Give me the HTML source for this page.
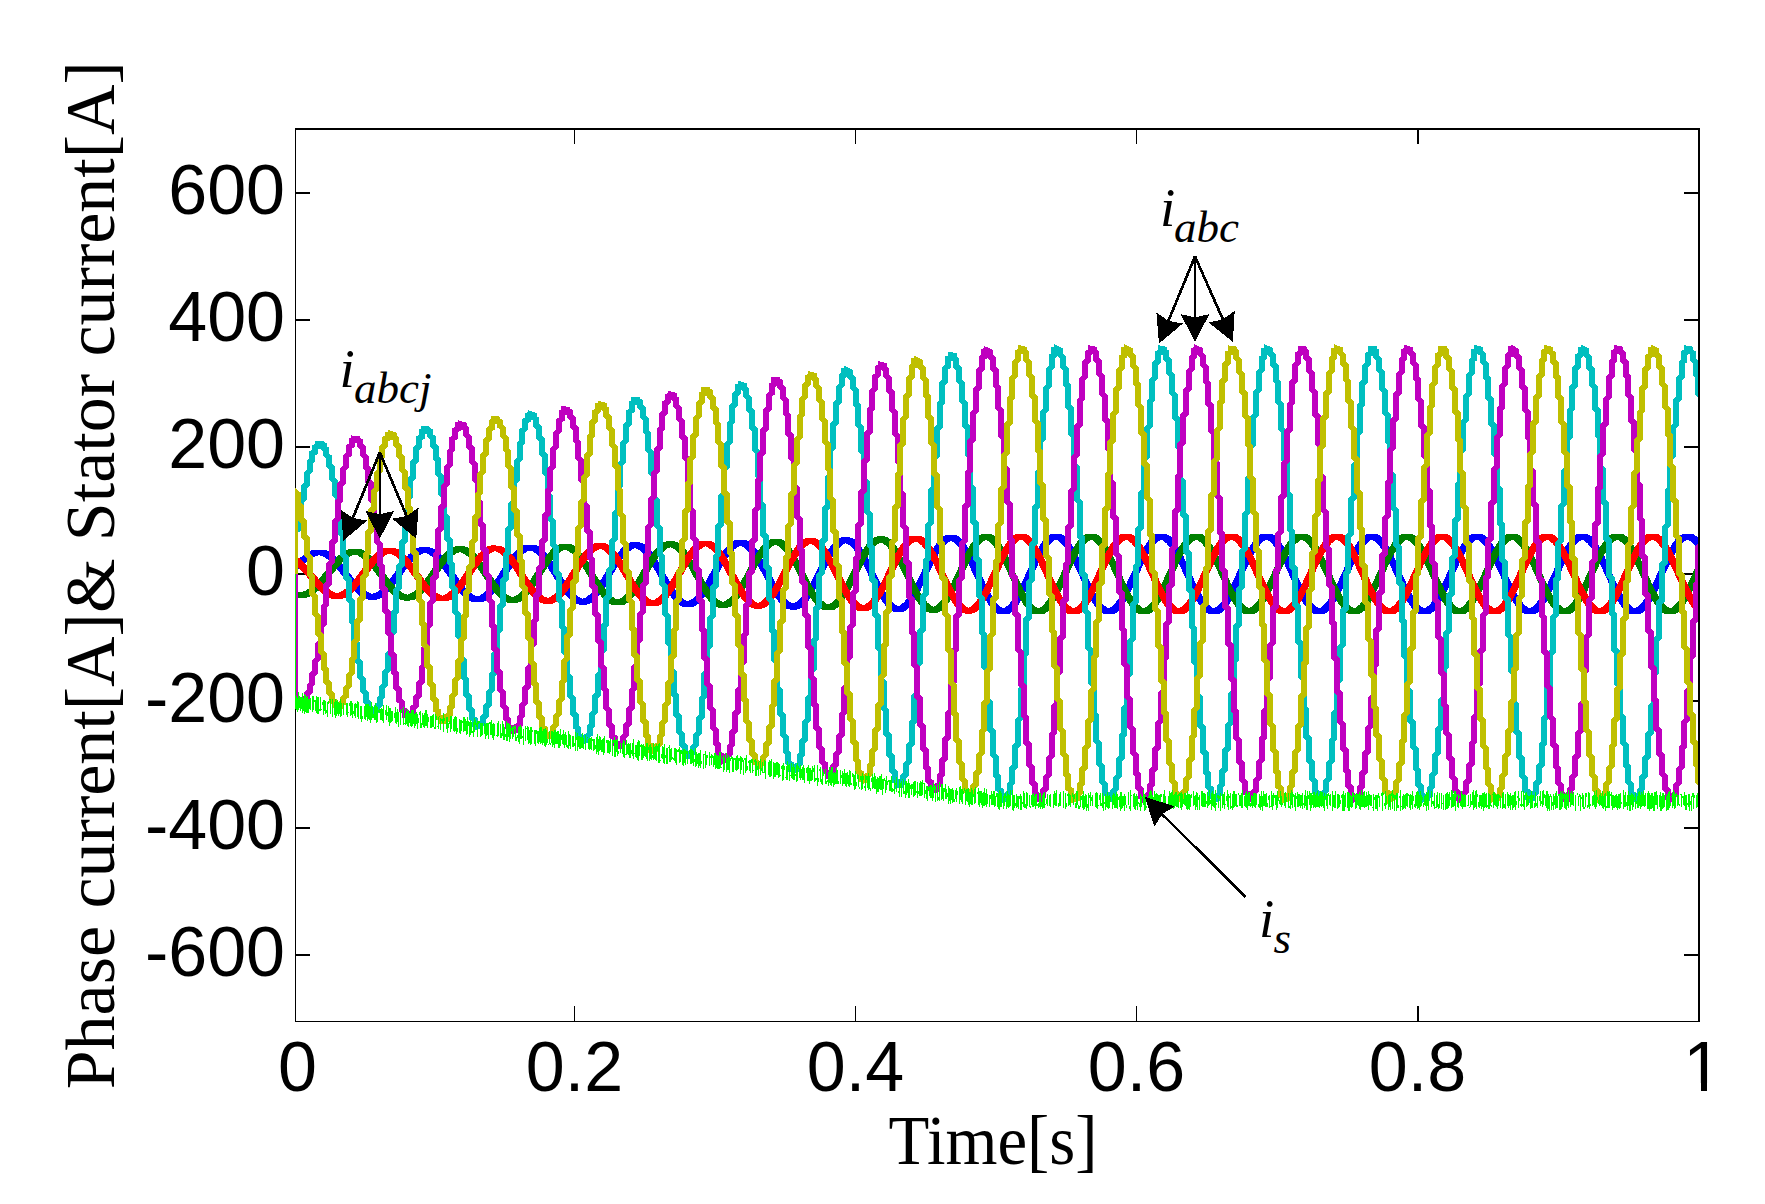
<!DOCTYPE html>
<html lang="en"><head><meta charset="utf-8"><title>Phase current and stator current</title>
<style>html,body{margin:0;padding:0;background:#fff;overflow:hidden}svg{display:block}.tk{font-family:"Liberation Sans",Arial,Helvetica,sans-serif;font-size:70px;fill:#000}.lb{font-family:"Liberation Serif","Times New Roman",Times,serif;font-size:70px;fill:#000}.an{font-family:"Liberation Serif","Times New Roman",Times,serif;font-style:italic;fill:#000}</style></head><body>
<svg width="1765" height="1204" viewBox="0 0 1765 1204">
<rect x="0" y="0" width="1765" height="1204" fill="#fff"/>
<defs><clipPath id="box"><rect x="295" y="130" width="1403" height="891"/></clipPath></defs>
<g shape-rendering="crispEdges" fill="#000">
<rect x="295" y="128" width="1" height="894"/>
<rect x="574" y="1006" width="1" height="15"/>
<rect x="574" y="130" width="1" height="14"/>
<rect x="855" y="1006" width="1" height="15"/>
<rect x="855" y="130" width="1" height="14"/>
<rect x="1136" y="1006" width="1" height="15"/>
<rect x="1136" y="130" width="1" height="14"/>
<rect x="1417" y="1006" width="2" height="15"/>
<rect x="1417" y="130" width="2" height="14"/>
<rect x="296" y="192" width="14" height="2"/>
<rect x="1684" y="192" width="14" height="2"/>
<rect x="296" y="319" width="14" height="2"/>
<rect x="1684" y="319" width="14" height="2"/>
<rect x="296" y="446" width="14" height="2"/>
<rect x="1684" y="446" width="14" height="2"/>
<rect x="296" y="573" width="14" height="2"/>
<rect x="1684" y="573" width="14" height="2"/>
<rect x="296" y="700" width="14" height="2"/>
<rect x="1684" y="700" width="14" height="2"/>
<rect x="296" y="827" width="14" height="2"/>
<rect x="1684" y="827" width="14" height="2"/>
<rect x="296" y="954" width="14" height="2"/>
<rect x="1684" y="954" width="14" height="2"/>
</g>
<g clip-path="url(#box)" shape-rendering="crispEdges" stroke-linejoin="round">
<polygon points="292.8,561.7 295.5,561.7 300.8,557.1 304.8,554.0 308.2,551.8 311.5,550.4 315.2,549.6 322.2,549.5 325.0,549.9 327.8,550.8 330.2,552.0 333.0,553.9 335.8,556.3 338.5,559.1 343.8,565.3 355.8,580.9 358.8,584.4 361.5,587.3 364.2,589.7 367.0,591.7 369.8,593.1 372.2,593.9 375.0,593.0 378.0,591.3 381.0,588.9 384.2,585.7 390.0,578.8 400.2,564.6 404.2,559.4 408.2,554.8 412.0,551.3 415.8,548.8 417.8,547.9 419.5,547.3 422.0,547.1 428.0,547.1 429.8,547.3 432.2,548.0 435.0,549.4 437.8,551.4 440.5,554.0 443.5,557.3 447.0,561.8 459.8,580.2 465.5,587.6 468.8,591.0 471.8,593.5 474.8,595.3 477.5,596.3 480.2,595.3 483.2,593.4 486.2,590.8 489.5,587.3 495.2,579.6 505.5,563.9 509.2,558.5 513.2,553.4 517.0,549.5 520.8,546.6 522.8,545.6 524.5,545.0 527.0,544.6 534.2,544.7 537.0,545.4 539.8,546.9 542.5,549.0 545.5,552.0 548.5,555.6 552.0,560.5 565.0,581.1 570.8,589.2 574.0,592.9 577.0,595.7 580.0,597.7 582.8,598.7 585.5,597.6 588.5,595.5 591.5,592.7 594.8,588.8 600.5,580.4 610.5,563.6 614.5,557.3 618.5,551.7 622.0,547.7 625.8,544.5 627.8,543.3 629.5,542.6 632.0,542.2 639.0,542.2 641.8,542.9 644.8,544.5 647.8,546.9 650.8,550.2 653.8,554.2 657.2,559.5 670.2,581.9 676.0,590.8 679.2,594.9 682.2,597.9 685.2,600.0 686.8,600.8 688.0,601.1 690.8,599.9 693.8,597.6 696.8,594.5 700.0,590.3 702.8,586.2 705.8,581.2 715.8,563.0 719.8,556.1 723.8,550.0 727.2,545.7 729.2,543.7 731.0,542.2 732.8,541.1 734.5,540.3 737.2,539.7 744.0,539.7 746.8,540.4 749.8,542.0 752.8,544.6 755.8,548.1 758.8,552.3 762.2,558.1 775.5,582.8 778.5,588.1 781.2,592.4 784.5,596.8 787.5,600.0 790.5,602.4 792.2,603.3 793.2,603.6 796.0,602.2 799.0,599.8 802.0,596.4 805.2,591.9 808.0,587.4 811.0,582.0 821.0,562.3 825.0,554.9 829.0,548.4 832.5,543.7 834.5,541.5 836.2,539.9 838.0,538.7 839.8,537.9 842.5,537.2 849.0,537.2 851.8,537.9 854.8,539.6 857.8,542.3 861.0,546.3 864.0,550.9 867.5,557.0 880.8,583.7 883.8,589.3 886.5,594.0 889.5,598.4 892.5,602.0 895.5,604.6 898.2,606.0 899.5,605.6 901.0,604.7 904.0,602.2 907.0,598.6 910.2,593.8 913.0,589.0 916.0,583.3 926.2,561.7 930.2,553.7 934.2,546.7 937.8,541.6 939.8,539.3 941.5,537.7 943.2,536.4 945.0,535.4 947.8,534.8 954.2,534.8 957.0,535.5 958.5,536.2 960.0,537.3 963.0,540.2 966.2,544.5 969.2,549.4 972.8,556.0 986.0,584.6 989.0,590.6 991.8,595.6 995.0,600.7 998.0,604.4 1000.8,606.9 1002.2,607.8 1003.5,608.3 1006.2,606.8 1009.2,604.0 1012.2,600.2 1015.2,595.5 1018.0,590.5 1021.0,584.4 1031.2,561.8 1035.0,554.0 1039.0,546.6 1042.5,541.2 1044.5,538.7 1046.2,537.0 1048.2,535.4 1050.0,534.4 1051.5,533.9 1052.8,533.7 1059.2,533.7 1060.5,533.9 1062.0,534.4 1063.5,535.1 1065.0,536.2 1068.0,539.2 1071.2,543.6 1074.2,548.6 1077.8,555.3 1091.0,584.2 1094.0,590.3 1096.8,595.3 1100.0,600.4 1103.0,604.2 1106.0,606.9 1107.5,607.8 1108.8,608.3 1111.5,606.8 1114.5,604.0 1117.5,600.2 1120.5,595.5 1123.2,590.5 1126.2,584.4 1136.5,561.8 1140.2,554.0 1144.2,546.6 1147.8,541.2 1149.8,538.7 1151.5,537.0 1153.5,535.4 1155.2,534.4 1156.8,533.9 1158.0,533.7 1164.5,533.7 1165.8,533.9 1167.2,534.4 1168.8,535.1 1170.2,536.2 1173.2,539.2 1176.5,543.6 1179.5,548.6 1183.0,555.3 1196.2,584.2 1199.2,590.3 1202.0,595.3 1205.2,600.4 1208.2,604.2 1211.2,606.9 1212.8,607.8 1214.0,608.3 1216.8,606.8 1219.8,604.0 1222.8,600.2 1225.8,595.5 1228.5,590.5 1231.5,584.4 1241.8,561.8 1245.5,554.0 1249.5,546.6 1253.0,541.2 1255.0,538.7 1256.8,537.0 1258.8,535.4 1260.5,534.4 1262.0,533.9 1263.2,533.7 1269.8,533.7 1271.0,533.9 1272.5,534.4 1274.0,535.1 1275.5,536.2 1278.5,539.2 1281.8,543.6 1284.8,548.6 1288.2,555.3 1301.5,584.2 1304.5,590.3 1307.2,595.3 1310.5,600.4 1313.5,604.2 1316.5,606.9 1318.0,607.8 1319.2,608.3 1322.0,606.8 1325.0,604.0 1328.0,600.2 1331.0,595.5 1333.8,590.5 1336.8,584.4 1347.0,561.8 1350.8,554.0 1354.8,546.6 1358.2,541.2 1360.2,538.7 1362.0,537.0 1363.8,535.5 1365.5,534.5 1368.2,533.7 1374.8,533.7 1376.0,533.8 1377.5,534.3 1379.0,535.0 1380.5,536.0 1383.5,538.9 1386.8,543.2 1390.0,548.6 1393.5,555.3 1406.8,584.2 1409.8,590.3 1412.5,595.3 1415.8,600.4 1418.8,604.2 1421.8,606.9 1423.2,607.8 1424.5,608.3 1427.2,606.8 1430.2,604.0 1433.2,600.2 1436.2,595.5 1439.0,590.5 1442.0,584.4 1452.2,561.8 1456.0,554.0 1460.0,546.6 1463.5,541.2 1465.5,538.7 1467.2,537.0 1469.0,535.5 1470.8,534.5 1473.5,533.7 1480.0,533.7 1481.2,533.8 1482.8,534.3 1484.2,535.0 1485.8,536.0 1488.8,538.9 1492.0,543.2 1495.2,548.6 1498.8,555.3 1512.0,584.2 1515.0,590.3 1517.8,595.3 1521.0,600.4 1524.0,604.2 1527.0,606.9 1528.5,607.8 1529.8,608.3 1532.5,606.8 1535.5,604.0 1538.5,600.2 1541.5,595.5 1544.2,590.5 1547.2,584.4 1557.5,561.8 1561.2,554.0 1565.2,546.6 1568.8,541.2 1570.8,538.7 1572.5,537.0 1574.2,535.5 1576.0,534.5 1578.8,533.7 1585.2,533.7 1586.5,533.8 1588.0,534.3 1589.5,535.0 1591.0,536.0 1594.0,538.9 1597.2,543.2 1600.5,548.6 1604.0,555.3 1617.2,584.2 1620.2,590.3 1623.0,595.3 1626.2,600.4 1629.2,604.2 1632.2,606.9 1633.8,607.8 1635.0,608.3 1637.8,606.8 1640.5,604.3 1643.2,600.9 1646.2,596.3 1649.0,591.4 1652.0,585.4 1663.2,560.7 1668.0,551.0 1670.5,546.6 1672.8,543.0 1675.0,539.9 1677.2,537.4 1680.2,535.1 1683.0,533.9 1684.8,533.7 1691.8,533.8 1694.2,534.7 1696.8,536.4 1699.2,538.9 1702.0,542.5 1702.0,552.3 1699.2,552.3 1696.5,548.0 1693.8,544.4 1691.0,541.7 1688.5,540.1 1687.5,539.7 1686.5,540.1 1684.8,541.2 1682.8,542.9 1680.5,545.4 1678.2,548.5 1676.0,552.1 1673.5,556.5 1668.8,566.2 1657.2,591.5 1653.8,598.3 1650.8,603.4 1647.2,608.3 1644.0,611.7 1642.2,612.9 1640.8,613.7 1639.2,614.2 1637.8,614.3 1631.5,614.3 1630.2,614.1 1628.8,613.5 1627.0,612.5 1625.2,611.2 1623.5,609.4 1621.5,606.9 1618.0,601.7 1614.0,594.3 1610.0,585.9 1599.8,563.3 1596.8,557.3 1594.0,552.3 1591.0,547.6 1588.0,543.9 1585.0,541.2 1583.5,540.2 1582.2,539.7 1579.5,541.2 1576.5,544.0 1573.5,547.8 1570.2,552.9 1567.5,558.0 1564.5,564.1 1551.2,593.0 1547.8,599.7 1544.8,604.6 1541.5,608.9 1538.5,611.9 1537.0,612.9 1535.5,613.7 1534.0,614.2 1532.8,614.3 1526.2,614.3 1525.0,614.1 1523.5,613.5 1521.8,612.5 1520.0,611.2 1518.2,609.4 1516.2,606.9 1512.8,601.7 1508.8,594.3 1504.8,585.9 1494.5,563.3 1491.5,557.3 1488.8,552.3 1485.8,547.6 1482.8,543.9 1479.8,541.2 1478.2,540.2 1477.0,539.7 1474.2,541.2 1471.2,544.0 1468.2,547.8 1465.0,552.9 1462.2,558.0 1459.2,564.1 1446.0,593.0 1442.5,599.7 1439.5,604.6 1436.2,608.9 1433.2,611.9 1431.8,612.9 1430.2,613.7 1428.8,614.2 1427.5,614.3 1421.0,614.3 1419.8,614.1 1418.2,613.5 1416.5,612.5 1414.8,611.2 1413.0,609.4 1411.0,606.9 1407.5,601.7 1403.5,594.3 1399.5,585.9 1389.2,563.3 1386.2,557.3 1383.5,552.3 1380.5,547.6 1377.5,543.9 1374.5,541.2 1373.0,540.2 1371.8,539.7 1369.0,541.2 1366.0,544.0 1363.0,547.8 1359.8,552.9 1357.0,558.0 1354.0,564.1 1340.8,593.0 1337.2,599.7 1334.2,604.6 1331.0,608.9 1328.0,611.9 1326.5,612.9 1325.0,613.7 1323.5,614.2 1322.2,614.3 1315.8,614.3 1314.5,614.1 1313.0,613.5 1311.2,612.5 1309.5,611.2 1307.8,609.4 1305.8,606.9 1302.2,601.7 1298.2,594.3 1294.2,585.9 1284.0,563.3 1281.0,557.3 1278.2,552.3 1275.2,547.6 1272.2,543.9 1269.2,541.2 1267.8,540.2 1266.5,539.7 1263.8,541.2 1260.8,544.0 1257.8,547.8 1254.5,552.9 1251.8,558.0 1248.8,564.1 1235.5,593.0 1232.0,599.7 1229.0,604.6 1225.8,608.9 1222.8,611.9 1221.2,612.9 1219.8,613.7 1218.2,614.2 1217.0,614.3 1210.5,614.3 1209.2,614.1 1207.8,613.5 1206.0,612.5 1204.2,611.2 1202.5,609.4 1200.5,606.9 1197.0,601.7 1193.0,594.3 1189.0,585.9 1178.8,563.3 1175.8,557.3 1173.0,552.3 1170.0,547.6 1167.0,543.9 1164.0,541.2 1162.5,540.2 1161.2,539.7 1158.5,541.2 1155.5,544.0 1152.5,547.8 1149.2,552.9 1146.5,558.0 1143.5,564.1 1130.2,593.0 1126.8,599.7 1123.8,604.6 1120.5,608.9 1117.5,611.9 1116.0,612.9 1114.5,613.7 1113.0,614.2 1111.8,614.3 1105.2,614.3 1104.0,614.1 1102.5,613.5 1100.8,612.5 1099.0,611.2 1097.2,609.4 1095.2,606.9 1091.8,601.7 1087.8,594.3 1083.8,585.9 1073.5,563.3 1070.5,557.3 1067.8,552.3 1064.8,547.6 1061.8,543.9 1058.8,541.2 1057.2,540.2 1056.0,539.7 1053.2,541.2 1050.2,544.0 1047.2,547.8 1044.0,552.9 1041.2,558.0 1038.2,564.1 1025.0,593.0 1021.5,599.7 1018.5,604.6 1015.2,608.9 1012.2,611.9 1010.8,612.9 1009.2,613.7 1007.8,614.2 1006.5,614.3 1000.0,614.3 997.5,613.6 995.8,612.7 994.0,611.4 992.2,609.6 990.2,607.2 986.8,601.9 982.8,594.7 979.0,586.9 968.8,564.6 965.8,558.6 963.0,553.6 959.8,548.6 956.8,544.9 953.8,542.2 951.0,540.8 948.2,542.2 945.2,544.8 942.2,548.5 939.0,553.4 936.2,558.3 933.2,564.1 920.2,591.2 916.8,597.6 913.5,602.7 910.2,606.9 907.2,609.7 904.2,611.4 901.5,612.0 895.0,612.0 892.2,611.3 890.5,610.4 888.8,609.1 887.0,607.5 885.0,605.2 881.5,600.3 877.5,593.5 873.8,586.2 863.5,565.4 860.5,559.8 857.8,555.2 854.5,550.5 851.5,547.0 848.5,544.6 845.8,543.2 843.0,544.5 840.0,547.0 837.0,550.4 833.8,555.0 831.0,559.5 828.0,565.0 815.0,590.2 811.5,596.2 808.5,600.6 805.2,604.5 802.2,607.2 799.2,608.9 796.5,609.5 789.8,609.5 787.0,608.9 785.2,608.0 783.5,606.8 781.8,605.3 779.8,603.2 776.2,598.6 772.2,592.3 768.5,585.6 758.2,566.2 755.2,561.0 752.5,556.7 749.2,552.4 746.2,549.2 743.2,546.9 740.5,545.6 737.8,546.9 734.8,549.2 731.8,552.3 728.8,556.2 726.0,560.4 723.0,565.4 709.8,589.2 706.2,594.7 703.2,598.8 700.0,602.5 697.0,604.9 694.0,606.5 691.2,607.1 684.8,607.1 682.0,606.6 680.2,605.8 678.5,604.7 676.8,603.4 674.8,601.5 671.2,597.3 667.2,591.5 663.2,584.9 653.0,567.0 650.0,562.2 647.2,558.3 644.0,554.3 641.0,551.3 638.0,549.2 635.2,548.0 632.5,549.2 629.5,551.3 626.5,554.2 623.5,557.8 617.8,566.3 604.5,588.2 601.0,593.3 598.0,597.1 595.0,600.2 592.0,602.5 589.0,604.0 586.2,604.6 579.5,604.6 576.8,604.1 575.0,603.4 573.2,602.5 569.5,599.4 566.0,595.6 562.0,590.3 558.0,584.2 547.8,567.8 542.0,559.8 538.8,556.1 535.8,553.4 532.8,551.5 530.0,550.5 527.2,551.5 524.2,553.5 521.2,556.1 518.2,559.5 512.5,567.2 499.5,586.9 496.0,591.5 493.0,595.0 490.0,597.9 487.0,600.1 484.2,601.4 481.5,602.1 474.2,602.2 471.8,601.8 470.0,601.2 468.0,600.2 464.2,597.4 460.8,593.9 456.8,589.1 452.8,583.6 442.8,569.0 437.0,561.6 433.8,558.3 430.8,555.8 427.8,553.9 425.0,552.9 424.0,553.1 422.2,553.8 419.2,555.5 416.2,557.8 413.0,561.1 407.2,568.1 394.2,585.9 391.0,589.9 388.0,593.0 385.2,595.5 382.5,597.4 379.8,598.8 377.2,599.5 375.2,599.7 369.2,599.7 366.8,599.4 365.0,598.9 363.0,598.0 359.2,595.6 355.5,592.3 351.5,587.9 337.8,570.2 332.0,563.5 329.0,560.7 326.0,558.3 323.0,556.6 320.2,555.6 319.2,555.3 318.2,555.5 316.2,556.1 314.0,557.2 310.0,559.6 305.5,563.2 298.5,569.4 298.2,576.8 295.5,576.8 292.8,576.8" fill="#0000ff"/>
<polygon points="292.8,571.2 295.5,571.2 298.2,571.2 298.5,592.1 300.0,592.3 303.2,591.5 306.0,590.3 308.8,588.6 311.8,586.3 314.8,583.5 320.2,577.3 334.0,560.2 338.0,555.9 341.8,552.7 345.5,550.3 347.5,549.5 349.2,549.0 352.0,548.7 357.8,548.7 360.0,549.0 362.5,549.7 365.2,551.1 368.0,553.1 370.8,555.5 373.8,558.7 376.8,562.3 389.8,579.8 395.5,586.7 398.5,589.6 401.5,592.0 404.5,593.7 407.2,594.7 410.0,593.8 413.0,592.0 416.0,589.6 419.2,586.3 425.0,579.2 435.2,564.5 439.2,559.1 443.2,554.3 446.8,550.9 450.5,548.2 452.5,547.2 454.2,546.6 456.8,546.3 464.0,546.3 466.8,547.0 469.5,548.3 472.5,550.5 475.5,553.3 478.5,556.7 482.0,561.3 495.0,580.7 500.8,588.3 503.8,591.6 506.8,594.2 509.8,596.1 512.5,597.1 515.2,596.1 518.2,594.2 521.2,591.5 524.5,587.9 530.2,580.0 540.5,563.8 544.5,557.9 548.5,552.6 552.0,548.9 555.8,545.9 557.5,544.9 559.2,544.3 562.0,543.8 568.8,543.8 571.5,544.4 574.5,545.9 577.5,548.2 580.5,551.3 583.5,555.0 587.0,560.0 600.2,581.6 606.0,589.9 609.0,593.5 612.0,596.4 615.0,598.4 617.8,599.6 620.5,598.4 623.5,596.3 626.5,593.4 629.8,589.4 632.5,585.5 635.5,580.8 645.8,563.1 649.5,557.0 653.5,551.2 657.0,547.1 660.8,543.8 662.5,542.7 664.2,541.9 667.0,541.3 673.8,541.3 676.5,541.9 679.5,543.5 682.5,545.9 685.8,549.5 688.8,553.6 692.2,559.0 705.2,582.1 711.0,591.2 714.2,595.4 717.2,598.5 720.2,600.8 723.0,602.0 725.8,600.7 728.8,598.4 731.8,595.3 735.0,591.0 737.8,586.7 740.8,581.6 751.0,562.5 754.8,555.8 758.8,549.6 762.2,545.1 764.2,543.0 766.0,541.5 767.8,540.3 769.5,539.5 772.2,538.9 778.8,538.9 781.5,539.4 784.5,541.0 787.5,543.6 790.8,547.4 794.0,552.1 797.5,558.0 810.5,583.0 813.5,588.3 816.2,592.8 819.5,597.3 822.5,600.7 825.5,603.1 828.2,604.4 831.0,603.0 834.0,600.6 837.0,597.1 840.2,592.5 843.0,587.9 846.0,582.4 856.0,562.3 860.0,554.6 864.0,547.9 867.5,543.1 869.5,540.9 871.2,539.2 873.0,538.0 874.8,537.1 877.5,536.4 884.0,536.4 886.8,537.0 889.8,538.8 892.8,541.5 896.0,545.6 899.2,550.7 902.8,557.0 915.8,583.8 918.8,589.6 921.5,594.4 924.8,599.3 927.8,602.9 930.8,605.4 932.2,606.3 933.5,606.8 936.2,605.4 939.2,602.7 942.2,599.0 945.5,594.0 948.2,589.1 951.2,583.2 961.2,561.6 965.2,553.5 969.2,546.3 972.8,541.1 974.8,538.7 976.5,537.0 978.2,535.6 980.0,534.7 982.8,534.0 989.2,534.0 990.5,534.1 992.0,534.6 993.5,535.4 995.0,536.5 998.0,539.4 1001.0,543.5 1004.0,548.4 1007.5,555.1 1020.8,584.0 1023.8,590.1 1026.5,595.2 1029.8,600.3 1032.8,604.1 1035.8,606.8 1038.5,608.3 1041.2,606.8 1044.2,604.1 1047.2,600.3 1050.2,595.6 1053.0,590.6 1056.0,584.6 1066.2,562.0 1070.2,553.6 1074.2,546.3 1077.8,541.0 1079.8,538.6 1081.5,536.8 1083.2,535.4 1085.0,534.4 1086.5,533.9 1087.8,533.7 1094.2,533.7 1095.5,533.9 1097.0,534.3 1098.5,535.1 1100.0,536.2 1103.0,539.1 1106.2,543.5 1109.2,548.4 1112.8,555.1 1126.0,584.0 1129.0,590.1 1131.8,595.2 1135.0,600.3 1138.0,604.1 1141.0,606.8 1143.8,608.3 1146.5,606.8 1149.5,604.1 1152.5,600.3 1155.5,595.6 1158.2,590.6 1161.2,584.6 1171.5,562.0 1175.5,553.6 1179.5,546.3 1183.0,541.0 1185.0,538.6 1186.8,536.8 1188.5,535.4 1190.2,534.4 1191.8,533.9 1193.0,533.7 1199.5,533.7 1200.8,533.9 1202.2,534.3 1203.8,535.1 1205.2,536.2 1208.2,539.1 1211.5,543.5 1214.5,548.4 1218.0,555.1 1231.2,584.0 1234.2,590.1 1237.0,595.2 1240.2,600.3 1243.2,604.1 1246.2,606.8 1249.0,608.3 1251.8,606.8 1254.8,604.1 1257.8,600.3 1260.8,595.6 1263.5,590.6 1266.5,584.6 1276.8,562.0 1280.8,553.6 1284.8,546.3 1288.2,541.0 1290.2,538.6 1292.0,536.8 1293.8,535.4 1295.5,534.4 1297.0,533.9 1298.2,533.7 1304.8,533.7 1306.0,533.9 1307.5,534.3 1309.0,535.1 1310.5,536.2 1313.5,539.1 1316.8,543.5 1319.8,548.4 1323.2,555.1 1336.5,584.0 1339.5,590.1 1342.2,595.2 1345.5,600.3 1348.5,604.1 1351.5,606.8 1354.2,608.3 1357.0,606.8 1360.0,604.1 1363.0,600.3 1366.0,595.6 1368.8,590.6 1371.8,584.6 1382.0,562.0 1385.8,554.1 1389.8,546.7 1393.2,541.3 1395.2,538.8 1397.0,537.0 1399.0,535.4 1400.8,534.4 1402.2,533.9 1403.5,533.7 1409.8,533.7 1411.2,533.9 1412.8,534.3 1414.2,535.1 1415.8,536.2 1418.8,539.1 1422.0,543.5 1425.0,548.4 1428.5,555.1 1441.8,584.0 1444.8,590.1 1447.5,595.2 1450.8,600.3 1453.8,604.1 1456.8,606.8 1459.5,608.3 1462.2,606.8 1465.2,604.1 1468.2,600.3 1471.2,595.6 1474.0,590.6 1477.0,584.6 1487.2,562.0 1491.0,554.1 1495.0,546.7 1498.5,541.3 1500.5,538.8 1502.2,537.0 1504.2,535.4 1506.0,534.4 1507.5,533.9 1508.8,533.7 1515.0,533.7 1516.5,533.9 1518.0,534.3 1519.5,535.1 1521.0,536.2 1524.0,539.1 1527.2,543.5 1530.2,548.4 1533.8,555.1 1547.0,584.0 1550.0,590.1 1552.8,595.2 1556.0,600.3 1559.0,604.1 1562.0,606.8 1564.8,608.3 1567.5,606.8 1570.5,604.1 1573.5,600.3 1576.5,595.6 1579.2,590.6 1582.2,584.6 1592.5,562.0 1596.2,554.1 1600.2,546.7 1603.8,541.3 1605.8,538.8 1607.5,537.0 1609.5,535.4 1611.2,534.4 1612.8,533.9 1614.0,533.7 1620.2,533.7 1621.8,533.9 1623.2,534.3 1624.8,535.1 1626.2,536.2 1629.2,539.1 1632.5,543.5 1635.5,548.4 1639.0,555.1 1652.2,584.0 1655.2,590.1 1658.0,595.2 1661.2,600.3 1664.2,604.1 1667.2,606.8 1670.0,608.3 1672.2,607.2 1674.8,605.1 1677.2,602.3 1680.0,598.5 1683.2,593.0 1686.8,586.1 1699.2,558.8 1702.0,558.8 1702.0,570.2 1694.5,586.9 1690.0,596.1 1685.8,603.6 1682.0,608.7 1680.2,610.6 1678.5,612.1 1676.8,613.3 1675.0,614.0 1673.0,614.3 1667.2,614.3 1666.0,614.2 1664.5,613.8 1661.8,612.3 1658.8,609.6 1655.8,605.8 1652.5,600.7 1649.8,595.6 1646.8,589.5 1633.8,561.1 1630.5,554.8 1627.5,549.7 1624.8,545.8 1622.2,543.0 1619.5,540.8 1618.0,539.9 1617.2,539.7 1614.5,541.3 1611.5,544.1 1608.5,547.9 1605.5,552.6 1602.8,557.7 1599.8,563.7 1589.8,585.8 1585.8,594.2 1581.8,601.5 1578.0,607.2 1576.0,609.6 1574.2,611.3 1572.2,612.8 1570.5,613.7 1568.0,614.3 1560.8,614.2 1558.0,613.3 1555.2,611.3 1552.5,608.4 1549.5,604.3 1546.5,599.3 1543.0,592.6 1529.8,563.7 1526.8,557.6 1524.0,552.6 1520.8,547.5 1517.8,543.8 1514.8,541.1 1513.0,540.1 1512.0,539.7 1509.2,541.3 1506.2,544.1 1503.2,547.9 1500.2,552.6 1497.5,557.7 1494.5,563.7 1484.5,585.8 1480.5,594.2 1476.5,601.5 1473.0,606.9 1471.0,609.3 1469.2,611.1 1467.2,612.7 1465.5,613.6 1464.0,614.1 1462.8,614.3 1456.0,614.3 1453.2,613.5 1451.8,612.7 1450.2,611.5 1447.2,608.4 1444.2,604.3 1441.2,599.3 1437.8,592.6 1424.5,563.7 1421.5,557.6 1418.8,552.6 1415.5,547.5 1412.5,543.8 1409.5,541.1 1407.8,540.1 1406.8,539.7 1404.0,541.3 1401.0,544.1 1398.0,547.9 1395.0,552.6 1392.2,557.7 1389.2,563.7 1379.2,585.8 1375.2,594.2 1371.2,601.5 1367.8,606.9 1365.8,609.3 1364.0,611.1 1362.0,612.7 1360.2,613.6 1358.8,614.1 1357.5,614.3 1351.0,614.3 1349.8,614.1 1348.2,613.6 1346.8,612.8 1345.2,611.7 1342.2,608.7 1339.2,604.7 1336.2,599.8 1332.8,593.1 1319.2,563.7 1316.2,557.6 1313.5,552.6 1310.2,547.5 1307.2,543.8 1304.2,541.1 1302.5,540.1 1301.5,539.7 1298.8,541.3 1295.8,544.1 1292.8,547.9 1289.8,552.6 1287.0,557.7 1284.0,563.7 1274.0,585.8 1270.0,594.2 1266.0,601.5 1262.5,606.9 1260.5,609.3 1258.8,611.1 1256.8,612.7 1255.0,613.6 1253.5,614.1 1252.2,614.3 1245.8,614.3 1244.5,614.1 1243.0,613.6 1241.5,612.8 1240.0,611.7 1237.0,608.7 1234.0,604.7 1231.0,599.8 1227.5,593.1 1214.0,563.7 1211.0,557.6 1208.2,552.6 1205.0,547.5 1202.0,543.8 1199.0,541.1 1197.2,540.1 1196.2,539.7 1193.5,541.3 1190.5,544.1 1187.5,547.9 1184.5,552.6 1181.8,557.7 1178.8,563.7 1168.8,585.8 1164.8,594.2 1160.8,601.5 1157.2,606.9 1155.2,609.3 1153.5,611.1 1151.8,612.5 1150.0,613.5 1147.2,614.3 1140.8,614.3 1139.5,614.2 1138.0,613.7 1136.5,613.0 1135.0,611.9 1132.0,609.0 1128.8,604.7 1125.8,599.8 1122.2,593.1 1108.8,563.7 1105.8,557.6 1103.0,552.6 1099.8,547.5 1096.8,543.8 1093.8,541.1 1092.0,540.1 1091.0,539.7 1088.2,541.3 1085.2,544.1 1082.2,547.9 1079.2,552.6 1076.5,557.7 1073.5,563.7 1063.5,585.8 1059.5,594.2 1055.5,601.5 1052.0,606.9 1050.0,609.3 1048.2,611.1 1046.5,612.5 1044.8,613.5 1042.0,614.3 1035.5,614.3 1034.2,614.2 1032.8,613.7 1031.2,613.0 1029.8,611.9 1026.8,609.0 1023.5,604.7 1020.5,599.8 1017.0,593.1 1003.5,563.7 1000.5,557.6 997.8,552.6 994.5,547.5 991.8,544.1 988.8,541.4 987.2,540.5 986.0,540.0 983.2,541.5 980.2,544.2 977.2,547.9 974.2,552.6 971.5,557.5 968.5,563.5 955.2,591.7 951.8,598.3 948.8,603.1 945.5,607.4 942.5,610.3 939.5,612.1 936.8,612.8 930.2,612.8 927.5,612.2 925.8,611.3 924.0,610.0 922.2,608.4 920.2,606.1 916.8,601.1 912.8,594.2 908.8,586.3 898.5,565.0 895.5,559.3 892.8,554.5 889.5,549.7 886.5,546.2 883.5,543.7 882.0,542.9 880.8,542.4 878.0,543.8 875.0,546.4 872.0,549.9 869.0,554.2 866.2,558.8 863.2,564.4 850.0,590.7 846.5,596.8 843.5,601.3 840.5,605.0 837.5,607.8 834.5,609.6 831.8,610.3 825.0,610.4 822.2,609.8 820.5,608.9 818.8,607.7 817.0,606.2 815.0,604.1 811.5,599.4 807.5,593.0 803.5,585.6 793.2,565.8 790.2,560.5 787.5,556.1 784.2,551.6 781.2,548.4 778.2,546.0 776.8,545.2 775.5,544.8 772.8,546.1 769.8,548.5 766.8,551.8 763.8,555.8 761.0,560.1 758.0,565.2 745.0,589.3 741.5,595.0 738.5,599.2 735.5,602.7 732.5,605.4 729.5,607.1 726.8,607.8 719.8,607.9 717.0,607.3 715.2,606.5 713.5,605.4 711.8,604.0 709.8,602.0 706.2,597.8 702.2,591.8 698.2,585.0 688.0,566.6 685.0,561.7 682.2,557.6 679.0,553.5 676.0,550.5 673.0,548.4 671.5,547.6 670.2,547.3 667.5,548.5 664.5,550.7 661.5,553.7 658.5,557.4 652.8,566.1 639.8,588.3 636.2,593.5 633.2,597.5 630.2,600.7 627.2,603.1 624.5,604.6 621.8,605.4 614.5,605.4 612.0,605.0 610.2,604.3 608.2,603.2 604.5,600.0 601.0,596.1 597.0,590.6 593.0,584.3 583.0,567.8 577.2,559.5 574.0,555.7 571.0,552.9 568.0,550.8 565.2,549.7 562.5,550.7 559.5,552.6 556.5,555.3 553.2,559.0 547.5,567.0 534.5,587.3 531.2,591.8 528.2,595.4 525.2,598.4 522.5,600.6 519.8,602.0 517.2,602.8 515.5,603.0 509.5,603.0 507.0,602.6 505.2,602.0 503.2,601.0 499.5,598.2 495.8,594.4 491.8,589.4 487.8,583.7 477.8,568.6 472.0,561.0 468.8,557.6 465.8,555.0 462.8,553.1 460.0,552.1 457.8,552.8 455.0,554.3 452.5,556.2 449.8,558.7 447.0,561.8 443.8,565.9 431.0,584.0 425.2,591.3 422.0,594.7 419.0,597.2 416.0,599.0 413.2,600.1 410.2,600.5 404.2,600.5 402.2,600.3 400.5,599.8 398.5,599.0 394.8,596.6 391.0,593.2 386.8,588.5 382.8,583.3 372.5,569.4 366.8,562.6 363.5,559.4 360.5,557.1 357.5,555.5 354.8,554.5 352.2,555.3 349.2,556.8 346.2,559.0 343.2,561.7 337.5,568.0 327.2,581.0 323.2,585.8 319.0,590.2 315.0,593.6 310.8,596.2 306.8,597.6 303.2,598.0 295.5,597.9 292.8,597.9" fill="#008000"/>
<polygon points="292.8,557.5 295.5,557.5 298.2,557.5 301.0,559.6 304.0,562.3 309.5,568.0 321.5,582.0 324.5,585.1 327.2,587.7 329.8,589.6 332.2,591.2 334.8,592.4 337.0,593.1 339.8,592.2 342.8,590.6 345.8,588.4 349.0,585.4 351.8,582.4 355.0,578.4 365.2,564.7 369.2,559.7 373.5,555.0 377.2,551.7 381.0,549.4 383.0,548.5 384.8,548.1 386.8,547.9 392.8,547.9 395.5,548.3 398.2,549.3 401.2,551.0 404.2,553.4 407.5,556.7 413.2,563.9 426.2,582.0 429.5,586.0 432.2,589.0 435.0,591.5 437.5,593.4 440.2,594.8 442.5,595.5 445.2,594.5 448.2,592.6 451.2,590.1 454.5,586.7 460.2,579.2 470.2,564.4 474.2,558.8 478.2,553.8 482.0,550.1 485.8,547.3 487.8,546.3 489.5,545.8 492.0,545.4 499.5,545.6 502.2,546.4 505.0,547.8 507.8,549.9 510.8,552.9 513.8,556.5 517.0,560.9 530.0,580.9 535.8,588.8 538.8,592.1 541.8,594.8 544.8,596.8 547.5,597.9 550.2,596.9 553.2,594.9 556.2,592.2 559.5,588.5 565.2,580.4 575.5,563.7 579.5,557.6 583.5,552.1 587.2,548.0 591.0,545.0 592.8,544.1 594.5,543.4 597.0,543.0 604.2,543.0 607.0,543.8 609.8,545.3 612.8,547.7 615.8,550.9 618.8,554.7 622.2,559.9 635.2,581.8 641.0,590.4 644.0,594.0 647.0,597.0 650.0,599.2 652.8,600.4 655.5,599.2 658.5,597.1 661.5,594.1 664.8,590.0 667.5,586.0 670.5,581.2 680.8,563.1 684.8,556.4 688.8,550.5 692.2,546.2 694.2,544.3 696.0,542.9 697.8,541.8 699.5,541.1 702.2,540.5 709.0,540.5 711.8,541.2 714.8,542.8 717.8,545.4 720.8,548.8 723.8,553.0 727.2,558.5 740.5,582.7 743.5,587.8 746.2,592.0 749.2,596.0 752.2,599.2 755.2,601.5 758.0,602.8 760.8,601.5 763.8,599.2 766.8,596.0 770.0,591.6 772.8,587.2 775.8,582.0 786.0,562.4 790.0,555.2 794.0,548.8 797.5,544.2 799.5,542.1 801.2,540.6 803.0,539.5 804.8,538.6 807.5,538.1 814.0,538.1 816.8,538.7 819.8,540.4 822.8,543.1 826.0,547.0 829.0,551.5 832.5,557.5 845.8,583.6 848.8,589.1 851.5,593.6 854.5,597.9 857.5,601.3 860.5,603.8 863.2,605.2 866.0,603.9 869.0,601.4 872.0,597.9 875.2,593.1 878.0,588.5 881.0,582.8 891.2,561.7 895.2,553.9 899.2,547.1 902.8,542.2 904.8,540.0 906.5,538.3 908.2,537.1 910.0,536.2 912.8,535.6 919.2,535.6 922.0,536.3 925.0,538.1 928.0,541.0 931.2,545.3 934.2,550.1 937.8,556.5 950.8,584.0 953.8,589.9 956.5,594.8 959.8,599.8 962.8,603.5 965.8,606.2 968.5,607.6 971.2,606.2 974.2,603.5 977.2,599.8 980.5,594.7 983.2,589.7 986.2,583.6 996.2,561.6 1000.0,553.8 1004.0,546.4 1007.5,541.1 1009.5,538.7 1011.2,536.9 1013.2,535.3 1015.0,534.4 1016.5,533.9 1017.8,533.7 1024.2,533.7 1025.5,533.9 1027.0,534.4 1028.5,535.2 1030.0,536.3 1033.0,539.3 1036.2,543.7 1039.2,548.7 1042.8,555.4 1055.8,583.8 1058.8,589.9 1061.5,595.0 1064.8,600.2 1067.8,604.0 1070.8,606.7 1073.5,608.3 1074.8,607.8 1076.2,606.9 1079.2,604.2 1082.2,600.4 1085.5,595.3 1088.2,590.3 1091.2,584.2 1101.2,562.2 1105.2,553.8 1109.2,546.4 1112.8,541.1 1114.8,538.7 1116.5,536.9 1118.5,535.3 1120.2,534.4 1121.8,533.9 1123.0,533.7 1129.5,533.7 1130.8,533.9 1132.2,534.4 1133.8,535.2 1135.2,536.3 1138.2,539.3 1141.5,543.7 1144.5,548.7 1148.0,555.4 1161.0,583.8 1164.0,589.9 1166.8,595.0 1170.0,600.2 1173.0,604.0 1176.0,606.7 1178.8,608.3 1180.0,607.8 1181.5,606.9 1184.5,604.2 1187.5,600.4 1190.8,595.3 1193.5,590.3 1196.5,584.2 1206.5,562.2 1210.5,553.8 1214.5,546.4 1218.0,541.1 1220.0,538.7 1221.8,536.9 1223.5,535.5 1225.2,534.5 1228.0,533.7 1234.5,533.7 1235.8,533.8 1237.2,534.3 1238.8,535.0 1240.2,536.1 1243.2,539.0 1246.5,543.3 1249.5,548.3 1253.0,554.9 1266.2,583.8 1269.2,589.9 1272.0,595.0 1275.2,600.2 1278.2,604.0 1281.2,606.7 1284.0,608.3 1285.2,607.8 1286.8,606.9 1289.8,604.2 1292.8,600.4 1296.0,595.3 1298.8,590.3 1301.8,584.2 1311.8,562.2 1315.8,553.8 1319.8,546.4 1323.2,541.1 1325.2,538.7 1327.0,536.9 1328.8,535.5 1330.5,534.5 1333.2,533.7 1339.8,533.7 1341.0,533.8 1342.5,534.3 1344.0,535.0 1345.5,536.1 1348.5,539.0 1351.8,543.3 1354.8,548.3 1358.2,554.9 1371.5,583.8 1374.5,589.9 1377.2,595.0 1380.5,600.2 1383.5,604.0 1386.5,606.7 1389.2,608.3 1390.5,607.8 1392.0,606.9 1395.0,604.2 1398.0,600.4 1401.2,595.3 1404.0,590.3 1407.0,584.2 1417.0,562.2 1421.0,553.8 1425.0,546.4 1428.5,541.1 1430.5,538.7 1432.2,536.9 1434.0,535.5 1435.8,534.5 1438.5,533.7 1445.0,533.7 1446.2,533.8 1447.8,534.3 1449.2,535.0 1450.8,536.1 1453.8,539.0 1457.0,543.3 1460.0,548.3 1463.5,554.9 1476.8,583.8 1479.8,589.9 1482.5,595.0 1485.8,600.2 1488.8,604.0 1491.8,606.7 1494.5,608.3 1495.8,607.8 1497.2,606.9 1500.2,604.2 1503.2,600.4 1506.5,595.3 1509.2,590.3 1512.2,584.2 1522.2,562.2 1526.2,553.8 1530.2,546.4 1533.8,541.1 1535.8,538.7 1537.5,536.9 1539.2,535.5 1541.0,534.5 1543.8,533.7 1550.2,533.7 1551.5,533.8 1553.0,534.3 1554.5,535.0 1556.0,536.1 1559.0,539.0 1562.2,543.3 1565.2,548.3 1568.8,554.9 1582.0,583.8 1585.0,589.9 1587.8,595.0 1591.0,600.2 1594.0,604.0 1597.0,606.7 1599.8,608.3 1601.0,607.8 1602.5,606.9 1605.5,604.2 1608.5,600.4 1611.8,595.3 1614.5,590.3 1617.5,584.2 1627.5,562.2 1631.5,553.8 1635.5,546.4 1639.0,541.1 1641.0,538.7 1642.8,536.9 1644.5,535.5 1646.2,534.5 1649.0,533.7 1655.5,533.7 1657.0,533.9 1658.5,534.4 1660.0,535.2 1661.8,536.5 1665.0,539.9 1668.2,544.5 1671.2,549.6 1674.5,555.9 1686.8,582.8 1691.8,592.8 1694.5,597.5 1697.0,601.2 1699.5,604.3 1702.0,606.6 1702.0,613.7 1699.2,613.7 1696.5,612.1 1693.2,608.9 1690.0,604.6 1687.0,599.6 1683.5,593.0 1670.2,564.0 1667.2,557.9 1664.5,552.9 1661.2,547.7 1658.2,543.9 1655.2,541.2 1652.5,539.7 1649.8,541.2 1646.8,543.9 1643.8,547.6 1640.5,552.8 1637.8,557.8 1634.8,563.9 1621.5,592.8 1618.0,599.5 1614.8,604.9 1611.5,609.1 1608.5,612.0 1607.0,613.0 1605.5,613.8 1604.0,614.2 1602.8,614.3 1596.5,614.3 1595.2,614.1 1593.8,613.6 1592.0,612.6 1590.0,611.0 1588.2,609.2 1586.2,606.7 1582.8,601.4 1578.8,594.0 1575.0,586.1 1564.8,563.5 1561.8,557.5 1559.0,552.5 1556.0,547.7 1553.0,543.9 1550.0,541.2 1547.2,539.7 1544.5,541.2 1541.5,543.9 1538.5,547.6 1535.2,552.8 1532.5,557.8 1529.5,563.9 1516.2,592.8 1512.8,599.5 1509.5,604.9 1506.2,609.1 1503.2,612.0 1501.8,613.0 1500.2,613.8 1498.8,614.2 1497.5,614.3 1491.2,614.3 1490.0,614.1 1488.5,613.6 1486.8,612.6 1484.8,611.0 1483.0,609.2 1481.0,606.7 1477.5,601.4 1473.5,594.0 1469.8,586.1 1459.5,563.5 1456.5,557.5 1453.8,552.5 1450.8,547.7 1447.8,543.9 1444.8,541.2 1442.0,539.7 1439.2,541.2 1436.2,543.9 1433.2,547.6 1430.0,552.8 1427.2,557.8 1424.2,563.9 1411.0,592.8 1407.5,599.5 1404.2,604.9 1401.0,609.1 1398.0,612.0 1396.5,613.0 1395.0,613.8 1393.5,614.2 1392.2,614.3 1386.0,614.3 1384.8,614.1 1383.2,613.6 1381.5,612.6 1379.5,611.0 1377.8,609.2 1375.8,606.7 1372.2,601.4 1368.2,594.0 1364.5,586.1 1354.2,563.5 1351.2,557.5 1348.5,552.5 1345.5,547.7 1342.5,543.9 1339.5,541.2 1336.8,539.7 1334.0,541.2 1331.0,543.9 1328.0,547.6 1324.8,552.8 1322.0,557.8 1319.0,563.9 1305.8,592.8 1302.2,599.5 1299.0,604.9 1295.8,609.1 1292.8,612.0 1291.2,613.0 1289.8,613.8 1288.2,614.2 1287.0,614.3 1280.8,614.3 1279.5,614.1 1278.0,613.6 1276.2,612.6 1274.2,611.0 1272.5,609.2 1270.5,606.7 1267.0,601.4 1263.0,594.0 1259.2,586.1 1249.0,563.5 1246.0,557.5 1243.2,552.5 1240.2,547.7 1237.2,543.9 1234.2,541.2 1231.5,539.7 1228.8,541.2 1225.8,543.9 1222.8,547.6 1219.5,552.8 1216.8,557.8 1213.8,563.9 1200.5,592.8 1197.0,599.5 1194.0,604.5 1190.8,608.8 1187.8,611.8 1186.2,612.9 1184.8,613.7 1183.2,614.1 1182.0,614.3 1175.5,614.3 1174.2,614.1 1172.8,613.6 1171.0,612.6 1169.2,611.2 1167.5,609.5 1165.5,607.1 1162.0,601.8 1158.0,594.5 1154.0,586.1 1143.8,563.5 1140.8,557.5 1138.0,552.5 1135.0,547.7 1132.0,543.9 1129.0,541.2 1126.2,539.7 1123.5,541.2 1120.5,543.9 1117.5,547.6 1114.2,552.8 1111.5,557.8 1108.5,563.9 1095.2,592.8 1091.8,599.5 1088.8,604.5 1085.5,608.8 1082.5,611.8 1081.0,612.9 1079.5,613.7 1078.0,614.1 1076.8,614.3 1070.2,614.3 1069.0,614.1 1067.5,613.6 1065.8,612.6 1064.0,611.2 1062.2,609.5 1060.2,607.1 1056.8,601.8 1052.8,594.5 1048.8,586.1 1038.5,563.5 1035.5,557.5 1032.8,552.5 1029.8,547.7 1026.8,543.9 1023.8,541.2 1021.0,539.7 1018.2,541.2 1015.2,543.9 1012.2,547.6 1009.0,552.8 1006.2,557.8 1003.2,563.9 990.2,592.2 986.8,598.9 983.8,603.8 980.5,608.2 977.5,611.1 976.0,612.2 974.5,613.0 971.8,613.6 965.2,613.6 962.5,612.9 960.8,612.0 959.0,610.7 957.2,609.0 955.2,606.6 951.8,601.5 947.8,594.4 943.8,586.3 933.8,565.0 930.8,559.2 928.0,554.3 924.8,549.3 921.8,545.7 918.8,543.1 916.0,541.6 914.8,542.0 913.2,542.9 910.2,545.5 907.2,549.0 904.0,553.8 901.2,558.5 898.2,564.2 885.0,591.2 881.5,597.4 878.5,602.0 875.2,606.1 872.2,608.8 869.2,610.6 866.5,611.2 860.0,611.2 857.2,610.5 855.5,609.6 853.8,608.4 852.0,606.8 850.0,604.6 846.5,599.9 842.5,593.2 838.5,585.7 828.5,565.8 825.5,560.4 822.8,555.8 819.5,551.2 816.5,547.8 813.5,545.4 810.8,544.0 809.5,544.4 808.0,545.3 805.0,547.6 802.0,550.9 798.8,555.4 796.0,559.8 793.0,565.1 780.0,589.7 776.5,595.6 773.2,600.2 770.0,604.0 767.0,606.6 764.0,608.1 761.2,608.7 754.8,608.7 752.0,608.1 750.2,607.3 748.5,606.1 746.8,604.7 744.8,602.6 741.2,598.2 737.2,592.0 733.2,585.0 723.2,566.6 720.2,561.6 717.5,557.4 714.2,553.1 711.2,550.0 708.2,547.7 705.5,546.4 702.8,547.6 699.8,549.8 696.8,552.9 693.5,557.0 687.8,566.0 674.8,588.8 671.2,594.1 668.2,598.1 665.0,601.7 662.0,604.1 659.0,605.6 656.2,606.2 649.5,606.2 646.8,605.7 645.0,604.9 643.2,603.9 639.5,600.6 636.0,596.5 632.0,590.8 628.2,584.8 618.0,567.4 612.2,558.9 609.0,555.0 606.0,552.1 603.0,550.0 600.2,548.9 597.5,549.9 594.5,552.0 591.5,554.8 588.2,558.6 582.5,566.9 569.5,587.8 566.0,592.7 563.0,596.4 560.0,599.4 557.0,601.7 554.0,603.2 551.2,603.8 544.5,603.8 541.8,603.3 540.0,602.7 538.2,601.8 534.5,598.8 530.8,594.9 526.8,589.7 523.0,584.1 512.8,568.2 507.0,560.4 503.8,556.8 500.8,554.2 497.8,552.3 495.0,551.3 492.2,552.3 489.2,554.1 486.2,556.7 483.2,559.9 477.5,567.4 464.2,586.8 461.0,591.0 458.0,594.4 455.0,597.2 452.0,599.3 449.2,600.6 446.5,601.3 439.2,601.3 436.8,601.0 435.0,600.4 433.0,599.5 429.2,596.8 425.8,593.5 421.8,588.8 417.8,583.4 407.5,569.0 401.8,562.0 398.5,558.7 395.5,556.3 392.5,554.6 389.8,553.7 387.2,554.5 384.8,555.8 382.2,557.6 379.5,560.0 376.8,562.9 373.5,566.7 360.8,583.6 355.0,590.3 351.8,593.5 348.8,595.8 345.8,597.5 343.0,598.5 340.0,598.9 334.0,598.9 332.2,598.7 330.5,598.3 328.5,597.6 324.8,595.5 321.2,592.7 317.2,588.9 303.8,573.3 298.5,567.8 298.2,576.8 295.5,576.8 292.8,576.8" fill="#ff0000"/>
<polyline points="295.0,574.0 295.0,531.4 298.3,528.6 298.3,516.4 301.1,513.6 301.1,501.4 303.9,498.6 303.9,486.9 306.7,484.1 306.7,473.8 309.5,471.0 309.5,462.4 312.3,460.2 312.3,453.4 315.1,451.9 315.1,447.2 317.9,446.4 317.9,444.0 320.7,444.1 320.7,444.2 323.5,445.1 323.5,447.8 326.3,449.5 326.3,454.8 329.1,457.3 329.1,465.0 331.9,467.8 331.9,478.4 334.7,481.2 334.7,494.4 337.5,497.2 337.5,512.8 340.3,515.6 340.3,533.0 343.1,535.8 343.1,554.5 345.9,557.3 345.9,576.7 348.7,579.5 348.7,598.9 351.5,601.7 351.5,620.7 354.3,623.5 354.3,641.2 357.1,644.0 357.1,660.0 359.9,662.8 359.9,676.5 362.7,679.3 362.7,690.3 365.5,693.0 365.5,700.9 368.3,702.7 368.3,708.0 371.1,708.9 371.1,711.4 373.9,711.3 373.9,711.0 376.7,710.0 376.7,706.8 379.5,704.8 379.5,698.8 382.3,696.0 382.3,687.3 385.1,684.5 385.1,672.6 387.9,669.8 387.9,655.0 390.7,652.2 390.7,635.0 393.5,632.2 393.5,613.3 396.3,610.5 396.3,590.3 399.1,587.5 399.1,566.7 401.9,563.9 401.9,543.2 404.7,540.4 404.7,520.4 407.5,517.6 407.5,499.0 410.3,496.2 410.3,479.6 413.1,476.8 413.1,462.7 415.9,459.9 415.9,448.9 418.7,446.3 418.7,438.4 421.5,436.8 421.5,431.7 424.3,431.0 424.3,429.0 427.1,429.3 427.1,430.2 429.9,431.5 429.9,435.5 432.7,437.8 432.7,444.7 435.5,447.5 435.5,457.6 438.3,460.4 438.3,473.8 441.1,476.6 441.1,492.9 443.9,495.7 443.9,514.3 446.7,517.1 446.7,537.5 449.5,540.3 449.5,561.9 452.3,564.7 452.3,586.8 455.1,589.6 455.1,611.4 457.9,614.2 457.9,635.1 460.7,637.9 460.7,657.2 463.5,660.0 463.5,677.1 466.3,679.9 466.3,694.2 469.1,697.0 469.1,708.1 471.9,710.6 471.9,718.3 474.7,719.8 474.7,724.5 477.5,725.0 477.5,726.5 480.3,725.9 480.3,724.3 483.1,722.7 483.1,717.8 485.9,715.2 485.9,707.3 488.7,704.5 488.7,693.0 491.5,690.2 491.5,675.4 494.3,672.6 494.3,654.8 497.1,652.0 497.1,631.8 499.9,629.0 499.9,607.1 502.7,604.3 502.7,581.3 505.5,578.5 505.5,555.2 508.3,552.4 508.3,529.6 511.1,526.8 511.1,505.0 513.9,502.2 513.9,482.2 516.7,479.4 516.7,461.9 519.5,459.1 519.5,444.6 522.3,441.8 522.3,430.8 525.1,428.4 525.1,421.0 527.9,419.6 527.9,415.4 530.7,415.1 530.7,414.2 533.5,415.1 533.5,417.5 536.3,419.4 536.3,425.2 539.1,428.0 539.1,437.0 541.9,439.8 541.9,452.8 544.7,455.6 544.7,472.0 547.5,474.8 547.5,494.2 550.3,497.0 550.3,518.7 553.1,521.5 553.1,544.8 555.9,547.6 555.9,571.9 558.7,574.7 558.7,599.2 561.5,602.0 561.5,625.9 564.3,628.7 564.3,651.3 567.1,654.1 567.1,674.7 569.9,677.5 569.9,695.3 572.7,698.1 572.7,712.7 575.5,715.5 575.5,726.3 578.3,728.6 578.3,735.6 581.1,736.9 581.1,740.5 583.9,740.6 583.9,740.8 586.7,739.7 586.7,736.4 589.5,734.2 589.5,727.5 592.3,724.7 592.3,714.2 595.1,711.4 595.1,696.9 597.9,694.1 597.9,676.1 600.7,673.3 600.7,652.4 603.5,649.6 603.5,626.4 606.3,623.6 606.3,598.7 609.1,595.9 609.1,570.3 611.9,567.5 611.9,541.8 614.7,539.0 614.7,514.1 617.5,511.3 617.5,488.0 620.3,485.2 620.3,464.1 623.1,461.3 623.1,443.2 625.9,440.4 625.9,425.9 628.7,423.1 628.7,412.6 631.5,410.4 631.5,403.8 634.3,402.7 634.3,399.7 637.1,399.8 637.1,400.4 639.9,401.8 639.9,406.0 642.7,408.6 642.7,416.3 645.5,419.1 645.5,431.1 648.3,433.9 648.3,449.9 651.1,452.7 651.1,472.3 653.9,475.1 653.9,497.6 656.7,500.4 656.7,525.2 659.5,528.0 659.5,554.2 662.3,557.0 662.3,584.0 665.1,586.8 665.1,613.6 667.9,616.4 667.9,642.2 670.7,645.0 670.7,669.0 673.5,671.8 673.5,693.3 676.3,696.1 676.3,714.4 679.1,717.2 679.1,731.6 681.9,734.4 681.9,744.5 684.7,746.6 684.7,752.7 687.5,753.5 687.5,756.0 690.3,755.5 690.3,754.1 693.1,752.4 693.1,747.3 695.9,744.5 695.9,735.5 698.7,732.7 698.7,719.2 701.5,716.4 701.5,698.8 704.3,696.0 704.3,674.8 707.1,672.0 707.1,647.8 709.9,645.0 709.9,618.7 712.7,615.9 712.7,588.2 715.5,585.4 715.5,557.2 718.3,554.4 718.3,526.6 721.1,523.8 721.1,497.1 723.9,494.3 723.9,469.6 726.7,466.8 726.7,445.0 729.5,442.2 729.5,423.8 732.3,421.0 732.3,406.8 735.1,404.0 735.1,394.4 737.9,392.5 737.9,386.9 740.7,386.3 740.7,384.6 743.5,385.4 743.5,387.6 746.3,389.7 746.3,395.8 749.1,398.6 749.1,409.1 751.9,411.9 751.9,427.0 754.7,429.8 754.7,449.1 757.5,451.9 757.5,474.7 760.3,477.5 760.3,503.3 763.1,506.1 763.1,533.9 765.9,536.7 765.9,565.8 768.7,568.6 768.7,598.0 771.5,600.8 771.5,629.7 774.3,632.5 774.3,660.0 777.1,662.8 777.1,688.0 779.9,690.8 779.9,712.9 782.7,715.7 782.7,734.1 785.5,736.9 785.5,750.8 788.3,753.6 788.3,762.7 791.1,764.4 791.1,769.3 793.9,769.7 793.9,770.6 796.7,769.5 796.7,766.3 799.5,763.9 799.5,756.7 802.3,753.9 802.3,741.9 805.1,739.1 805.1,722.3 807.9,719.5 807.9,698.6 810.7,695.8 810.7,671.2 813.5,668.4 813.5,641.1 816.3,638.3 816.3,608.9 819.1,606.1 819.1,575.6 821.9,572.8 821.9,542.2 824.7,539.4 824.7,509.5 827.5,506.7 827.5,478.5 830.3,475.7 830.3,450.1 833.1,447.3 833.1,425.0 835.9,422.2 835.9,403.9 838.7,401.1 838.7,387.6 841.5,384.8 841.5,376.3 844.3,374.9 844.3,370.6 847.1,370.6 847.1,370.5 849.9,371.9 849.9,376.1 852.7,378.9 852.7,387.3 855.5,390.1 855.5,403.7 858.3,406.5 858.3,424.9 861.1,427.7 861.1,450.4 863.9,453.2 863.9,479.4 866.7,482.2 866.7,511.2 869.5,514.0 869.5,544.8 872.3,547.6 872.3,579.4 875.1,582.2 875.1,614.0 877.9,616.8 877.9,647.6 880.7,650.4 880.7,679.3 883.5,682.1 883.5,708.1 886.3,710.9 886.3,733.3 889.1,736.1 889.1,754.1 891.9,756.9 891.9,770.0 894.7,772.7 894.7,780.5 897.5,781.7 897.5,785.3 900.3,785.0 900.3,784.1 903.1,782.4 903.1,777.1 905.9,774.3 905.9,764.4 908.7,761.6 908.7,746.3 911.5,743.5 911.5,723.4 914.3,720.6 914.3,696.2 917.1,693.4 917.1,665.4 919.9,662.6 919.9,632.0 922.7,629.2 922.7,596.9 925.5,594.1 925.5,561.0 928.3,558.2 928.3,525.3 931.1,522.5 931.1,490.9 933.9,488.1 933.9,458.6 936.7,455.8 936.7,429.5 939.5,426.7 939.5,404.3 942.3,401.5 942.3,383.7 945.1,380.9 945.1,368.4 947.9,366.0 947.9,358.8 950.7,357.8 950.7,355.1 953.5,355.7 953.5,357.6 956.3,359.7 956.3,366.1 959.1,368.9 959.1,380.4 961.9,383.2 961.9,400.2 964.7,403.0 964.7,424.9 967.5,427.7 967.5,453.9 970.3,456.7 970.3,486.3 973.1,489.1 973.1,521.3 975.9,524.1 975.9,557.9 978.7,560.7 978.7,595.1 981.5,597.9 981.5,631.8 984.3,634.6 984.3,667.0 987.1,669.8 987.1,699.8 989.9,702.6 989.9,729.1 992.7,731.9 992.7,754.3 995.5,757.1 995.5,774.4 998.3,777.2 998.3,789.0 1001.1,791.0 1001.1,797.3 1003.9,797.8 1003.9,799.3 1006.7,798.3 1006.7,795.1 1009.5,792.5 1009.5,784.8 1012.3,782.0 1012.3,768.5 1015.1,765.7 1015.1,746.9 1017.9,744.1 1017.9,720.4 1020.7,717.6 1020.7,689.8 1023.5,687.0 1023.5,656.0 1026.3,653.2 1026.3,619.9 1029.1,617.1 1029.1,582.6 1031.9,579.8 1031.9,545.0 1034.7,542.2 1034.7,508.2 1037.5,505.4 1037.5,473.2 1040.3,470.4 1040.3,441.1 1043.1,438.3 1043.1,412.6 1045.9,409.8 1045.9,388.7 1048.7,385.9 1048.7,369.9 1051.5,367.1 1051.5,356.8 1054.3,355.1 1054.3,349.8 1057.1,349.6 1057.1,349.0 1059.9,350.4 1059.9,354.5 1062.7,357.3 1062.7,366.1 1065.5,368.9 1065.5,383.5 1068.3,386.3 1068.3,406.2 1071.1,409.0 1071.1,433.6 1073.9,436.4 1073.9,464.9 1076.7,467.7 1076.7,499.2 1079.5,502.0 1079.5,535.7 1082.3,538.5 1082.3,573.2 1085.1,576.0 1085.1,610.7 1087.9,613.5 1087.9,647.2 1090.7,650.0 1090.7,681.6 1093.5,684.4 1093.5,713.1 1096.3,715.9 1096.3,740.7 1099.1,743.5 1099.1,763.6 1101.9,766.4 1101.9,781.2 1104.7,784.0 1104.7,793.1 1107.5,794.5 1107.5,798.9 1110.3,798.7 1110.3,798.4 1113.1,796.7 1113.1,791.6 1115.9,788.8 1115.9,778.8 1118.7,776.0 1118.7,760.2 1121.5,757.4 1121.5,736.5 1124.3,733.7 1124.3,708.3 1127.1,705.5 1127.1,676.3 1129.9,673.5 1129.9,641.4 1132.7,638.6 1132.7,604.7 1135.5,601.9 1135.5,567.1 1138.3,564.3 1138.3,529.7 1141.1,526.9 1141.1,493.6 1143.9,490.8 1143.9,459.6 1146.7,456.8 1146.7,428.9 1149.5,426.1 1149.5,402.2 1152.3,399.4 1152.3,380.3 1155.1,377.5 1155.1,363.8 1157.9,361.2 1157.9,353.2 1160.7,352.1 1160.7,348.7 1163.5,349.2 1163.5,350.5 1166.3,352.5 1166.3,358.5 1169.1,361.3 1169.1,372.6 1171.9,375.4 1171.9,392.2 1174.7,395.0 1174.7,416.9 1177.5,419.7 1177.5,446.0 1180.3,448.8 1180.3,478.7 1183.1,481.5 1183.1,514.0 1185.9,516.8 1185.9,551.0 1188.7,553.8 1188.7,588.6 1191.5,591.4 1191.5,625.8 1194.3,628.6 1194.3,661.6 1197.1,664.4 1197.1,695.0 1199.9,697.8 1199.9,724.9 1202.7,727.7 1202.7,750.7 1205.5,753.5 1205.5,771.5 1208.3,774.3 1208.3,786.8 1211.1,789.2 1211.1,796.2 1213.9,797.0 1213.9,799.4 1216.7,798.7 1216.7,796.3 1219.5,794.0 1219.5,787.1 1222.3,784.3 1222.3,771.8 1225.1,769.0 1225.1,751.1 1227.9,748.3 1227.9,725.4 1230.7,722.6 1230.7,695.5 1233.5,692.7 1233.5,662.2 1236.3,659.4 1236.3,626.5 1239.1,623.7 1239.1,589.3 1241.9,586.5 1241.9,551.7 1244.7,548.9 1244.7,514.7 1247.5,511.9 1247.5,479.3 1250.3,476.5 1250.3,446.6 1253.1,443.8 1253.1,417.4 1255.9,414.6 1255.9,392.6 1258.7,389.8 1258.7,372.9 1261.5,370.1 1261.5,358.7 1264.3,356.7 1264.3,350.6 1267.1,350.1 1267.1,348.7 1269.9,349.8 1269.9,353.1 1272.7,355.7 1272.7,363.6 1275.5,366.4 1275.5,380.0 1278.3,382.8 1278.3,401.8 1281.1,404.6 1281.1,428.4 1283.9,431.2 1283.9,459.1 1286.7,461.9 1286.7,492.9 1289.5,495.7 1289.5,529.1 1292.3,531.9 1292.3,566.4 1295.1,569.2 1295.1,604.0 1297.9,606.8 1297.9,640.8 1300.7,643.6 1300.7,675.7 1303.5,678.5 1303.5,707.7 1306.3,710.5 1306.3,736.1 1309.1,738.9 1309.1,759.9 1311.9,762.7 1311.9,778.5 1314.7,781.3 1314.7,791.4 1317.5,793.1 1317.5,798.3 1320.3,798.5 1320.3,798.9 1323.1,797.5 1323.1,793.3 1325.9,790.5 1325.9,781.5 1328.7,778.7 1328.7,764.0 1331.5,761.2 1331.5,741.1 1334.3,738.3 1334.3,713.6 1337.1,710.8 1337.1,682.2 1339.9,679.4 1339.9,647.8 1342.7,645.0 1342.7,611.3 1345.5,608.5 1345.5,573.8 1348.3,571.0 1348.3,536.3 1351.1,533.5 1351.1,499.9 1353.9,497.1 1353.9,465.5 1356.7,462.7 1356.7,434.1 1359.5,431.3 1359.5,406.7 1362.3,403.9 1362.3,383.9 1365.1,381.1 1365.1,366.4 1367.9,363.6 1367.9,354.7 1370.7,353.3 1370.7,349.1 1373.5,349.2 1373.5,349.7 1376.3,351.5 1376.3,356.7 1379.1,359.5 1379.1,369.6 1381.9,372.4 1381.9,388.3 1384.7,391.1 1384.7,412.2 1387.5,415.0 1387.5,440.5 1390.3,443.3 1390.3,472.6 1393.1,475.4 1393.1,507.5 1395.9,510.3 1395.9,544.3 1398.7,547.1 1398.7,581.9 1401.5,584.7 1401.5,619.3 1404.3,622.1 1404.3,655.4 1407.1,658.2 1407.1,689.2 1409.9,692.0 1409.9,719.9 1412.7,722.7 1412.7,746.4 1415.5,749.2 1415.5,768.2 1418.3,771.0 1418.3,784.5 1421.1,787.1 1421.1,795.0 1423.9,796.1 1423.9,799.3 1426.7,798.8 1426.7,797.3 1429.5,795.3 1429.5,789.2 1432.3,786.4 1432.3,775.0 1435.1,772.2 1435.1,755.2 1437.9,752.4 1437.9,730.3 1440.7,727.5 1440.7,701.1 1443.5,698.3 1443.5,668.4 1446.3,665.6 1446.3,633.0 1449.1,630.2 1449.1,596.0 1451.9,593.2 1451.9,558.4 1454.7,555.6 1454.7,521.2 1457.5,518.4 1457.5,485.4 1460.3,482.6 1460.3,452.2 1463.1,449.4 1463.1,422.3 1465.9,419.5 1465.9,396.7 1468.7,393.9 1468.7,376.0 1471.5,373.2 1471.5,360.8 1474.3,358.5 1474.3,351.6 1477.1,350.8 1477.1,348.6 1479.9,349.4 1479.9,351.8 1482.7,354.2 1482.7,361.3 1485.5,364.1 1485.5,376.7 1488.3,379.5 1488.3,397.5 1491.1,400.3 1491.1,423.3 1493.9,426.1 1493.9,453.3 1496.7,456.1 1496.7,486.7 1499.5,489.5 1499.5,522.5 1502.3,525.3 1502.3,559.7 1505.1,562.5 1505.1,597.3 1507.9,600.1 1507.9,634.3 1510.7,637.1 1510.7,669.6 1513.5,672.4 1513.5,702.2 1516.3,705.0 1516.3,731.3 1519.1,734.1 1519.1,756.0 1521.9,758.8 1521.9,775.6 1524.7,778.4 1524.7,789.6 1527.5,791.5 1527.5,797.5 1530.3,798.0 1530.3,799.3 1533.1,798.1 1533.1,794.7 1535.9,792.1 1535.9,784.0 1538.7,781.2 1538.7,767.5 1541.5,764.7 1541.5,745.6 1544.3,742.8 1544.3,718.8 1547.1,716.0 1547.1,688.1 1549.9,685.3 1549.9,654.1 1552.7,651.3 1552.7,618.0 1555.5,615.2 1555.5,580.6 1558.3,577.8 1558.3,543.0 1561.1,540.2 1561.1,506.3 1563.9,503.5 1563.9,471.4 1566.7,468.6 1566.7,439.5 1569.5,436.7 1569.5,411.2 1572.3,408.4 1572.3,387.6 1575.1,384.8 1575.1,369.1 1577.9,366.3 1577.9,356.3 1580.7,354.6 1580.7,349.6 1583.5,349.5 1583.5,349.2 1586.3,350.6 1586.3,355.0 1589.1,357.8 1589.1,366.9 1591.9,369.7 1591.9,384.6 1594.7,387.4 1594.7,407.6 1597.5,410.4 1597.5,435.2 1600.3,438.0 1600.3,466.7 1603.1,469.5 1603.1,501.1 1605.9,503.9 1605.9,537.7 1608.7,540.5 1608.7,575.2 1611.5,578.0 1611.5,612.7 1614.3,615.5 1614.3,649.1 1617.1,651.9 1617.1,683.4 1619.9,686.2 1619.9,714.7 1622.7,717.5 1622.7,742.0 1625.5,744.8 1625.5,764.7 1628.3,767.5 1628.3,782.0 1631.1,784.8 1631.1,793.6 1633.9,794.9 1633.9,799.0 1636.7,798.8 1636.7,798.2 1639.5,796.4 1639.5,791.1 1642.3,788.3 1642.3,777.9 1645.1,775.1 1645.1,759.1 1647.9,756.3 1647.9,735.1 1650.7,732.3 1650.7,706.6 1653.5,703.8 1653.5,674.5 1656.3,671.7 1656.3,639.5 1659.1,636.7 1659.1,602.7 1661.9,599.9 1661.9,565.1 1664.7,562.3 1664.7,527.7 1667.5,524.9 1667.5,491.7 1670.3,488.9 1670.3,457.9 1673.1,455.1 1673.1,427.4 1675.9,424.6 1675.9,400.9 1678.7,398.1 1678.7,379.3 1681.5,376.5 1681.5,363.1 1684.3,360.5 1684.3,352.8 1687.1,351.8 1687.1,348.7 1689.9,349.2 1689.9,350.8 1692.7,352.9 1692.7,359.1 1695.5,361.9 1695.5,373.5 1698.3,376.3 1698.3,393.4 1701.1,396.2 1701.1,418.4" fill="none" stroke="#00bfbf" stroke-width="6" stroke-linejoin="miter"/>
<polyline points="295.0,574.0 295.0,698.9 298.3,699.5 298.3,701.2 301.1,701.2 301.1,701.4 303.9,700.8 303.9,699.0 306.7,697.7 306.7,693.8 309.5,691.8 309.5,685.8 312.3,683.1 312.3,674.9 315.1,672.1 315.1,661.2 317.9,658.4 317.9,645.0 320.7,642.2 320.7,626.8 323.5,624.0 323.5,606.9 326.3,604.1 326.3,585.9 329.1,583.1 329.1,564.4 331.9,561.6 331.9,542.9 334.7,540.1 334.7,522.0 337.5,519.2 337.5,502.4 340.3,499.6 340.3,484.7 343.1,481.9 343.1,469.2 345.9,466.4 345.9,456.6 348.7,454.2 348.7,447.1 351.5,445.6 351.5,441.1 354.3,440.5 354.3,438.8 357.1,439.1 357.1,440.2 359.9,441.5 359.9,445.3 362.7,447.5 362.7,454.1 365.5,456.9 365.5,466.3 368.3,469.1 368.3,481.5 371.1,484.3 371.1,499.5 373.9,502.3 373.9,519.6 376.7,522.4 376.7,541.3 379.5,544.1 379.5,564.1 382.3,566.9 382.3,587.3 385.1,590.1 385.1,610.3 387.9,613.1 387.9,632.4 390.7,635.2 390.7,652.9 393.5,655.7 393.5,671.4 396.3,674.2 396.3,687.3 399.1,690.1 399.1,700.1 401.9,702.4 401.9,709.4 404.7,710.8 404.7,715.0 407.5,715.4 407.5,716.6 410.3,716.1 410.3,714.3 413.1,712.8 413.1,708.1 415.9,705.6 415.9,698.1 418.7,695.3 418.7,684.5 421.5,681.7 421.5,667.8 424.3,665.0 424.3,648.4 427.1,645.6 427.1,626.8 429.9,624.0 429.9,603.6 432.7,600.8 432.7,579.4 435.5,576.6 435.5,555.0 438.3,552.2 438.3,530.9 441.1,528.1 441.1,508.0 443.9,505.2 443.9,486.7 446.7,483.9 446.7,467.8 449.5,465.0 449.5,451.8 452.3,449.0 452.3,439.1 455.1,436.8 455.1,430.1 457.9,428.8 457.9,425.0 460.7,424.8 460.7,424.1 463.5,425.0 463.5,427.4 466.3,429.3 466.3,434.8 469.1,437.6 469.1,446.2 471.9,449.0 471.9,461.2 474.7,464.0 474.7,479.4 477.5,482.2 477.5,500.3 480.3,503.1 480.3,523.4 483.1,526.2 483.1,548.1 485.9,550.9 485.9,573.6 488.7,576.4 488.7,599.2 491.5,602.0 491.5,624.3 494.3,627.1 494.3,648.1 497.1,650.9 497.1,669.9 499.9,672.7 499.9,689.2 502.7,692.0 502.7,705.3 505.5,708.1 505.5,717.9 508.3,720.0 508.3,726.5 511.1,727.6 511.1,730.9 513.9,730.9 513.9,730.9 516.7,729.8 516.7,726.5 519.5,724.3 519.5,717.8 522.3,715.0 522.3,705.1 525.1,702.3 525.1,688.7 527.9,685.9 527.9,668.9 530.7,666.1 530.7,646.4 533.5,643.6 533.5,621.8 536.3,619.0 536.3,595.7 539.1,592.9 539.1,568.9 541.9,566.1 541.9,542.1 544.7,539.3 544.7,516.1 547.5,513.3 547.5,491.5 550.3,488.7 550.3,469.1 553.1,466.3 553.1,449.6 555.9,446.8 555.9,433.4 558.7,430.6 558.7,421.1 561.5,419.1 561.5,413.0 564.3,412.1 564.3,409.4 567.1,409.6 567.1,410.3 569.9,411.7 569.9,415.9 572.7,418.4 572.7,425.9 575.5,428.7 575.5,440.0 578.3,442.8 578.3,458.0 581.1,460.8 581.1,479.3 583.9,482.1 583.9,503.4 586.7,506.2 586.7,529.5 589.5,532.3 589.5,557.0 592.3,559.8 592.3,585.1 595.1,587.9 595.1,613.0 597.9,615.8 597.9,640.0 600.7,642.8 600.7,665.3 603.5,668.1 603.5,688.1 606.3,690.9 606.3,707.8 609.1,710.6 609.1,723.9 611.9,726.7 611.9,735.9 614.7,737.7 614.7,743.4 617.5,744.1 617.5,746.2 620.3,745.7 620.3,744.2 623.1,742.5 623.1,737.4 625.9,734.6 625.9,726.0 628.7,723.2 628.7,710.4 631.5,707.6 631.5,690.8 634.3,688.0 634.3,667.9 637.1,665.1 637.1,642.3 639.9,639.5 639.9,614.7 642.7,611.9 642.7,585.7 645.5,582.9 645.5,556.4 648.3,553.6 648.3,527.4 651.1,524.6 651.1,499.5 653.9,496.7 653.9,473.7 656.7,470.9 656.7,450.5 659.5,447.7 659.5,430.6 662.3,427.8 662.3,414.7 665.1,411.9 665.1,403.2 667.9,401.5 667.9,396.4 670.7,395.9 670.7,394.5 673.5,395.3 673.5,397.6 676.3,399.6 676.3,405.7 679.1,408.5 679.1,418.5 681.9,421.3 681.9,435.7 684.7,438.5 684.7,456.9 687.5,459.7 687.5,481.4 690.3,484.2 690.3,508.6 693.1,511.4 693.1,537.7 695.9,540.5 695.9,568.0 698.7,570.8 698.7,598.6 701.5,601.4 701.5,628.7 704.3,631.5 704.3,657.3 707.1,660.1 707.1,683.7 709.9,686.5 709.9,707.2 712.7,710.0 712.7,727.1 715.5,729.9 715.5,742.7 718.3,745.5 718.3,753.7 721.1,755.3 721.1,759.8 723.9,760.0 723.9,760.7 726.7,759.6 726.7,756.3 729.5,753.9 729.5,746.9 732.3,744.1 732.3,732.5 735.1,729.7 735.1,713.7 737.9,710.9 737.9,690.9 740.7,688.1 740.7,664.8 743.5,662.0 743.5,636.0 746.3,633.2 746.3,605.3 749.1,602.5 749.1,573.7 751.9,570.9 751.9,541.9 754.7,539.1 754.7,510.9 757.5,508.1 757.5,481.5 760.3,478.7 760.3,454.6 763.1,451.8 763.1,430.9 765.9,428.1 765.9,411.1 768.7,408.3 768.7,395.8 771.5,393.2 771.5,385.4 774.3,384.1 774.3,380.3 777.1,380.3 777.1,380.5 779.9,381.9 779.9,386.1 782.7,388.8 782.7,397.0 785.5,399.8 785.5,412.9 788.3,415.7 788.3,433.4 791.1,436.2 791.1,457.8 793.9,460.6 793.9,485.6 796.7,488.4 796.7,516.0 799.5,518.8 799.5,548.2 802.3,551.0 802.3,581.1 805.1,583.9 805.1,614.1 807.9,616.9 807.9,646.0 810.7,648.8 810.7,676.0 813.5,678.8 813.5,703.3 816.3,706.1 816.3,727.1 819.1,729.9 819.1,746.8 821.9,749.6 821.9,761.6 824.7,764.0 824.7,771.3 827.5,772.4 827.5,775.5 830.3,775.2 830.3,774.1 833.1,772.4 833.1,767.1 835.9,764.3 835.9,754.7 838.7,751.9 838.7,737.2 841.5,734.4 841.5,715.0 844.3,712.2 844.3,688.9 847.1,686.1 847.1,659.4 849.9,656.6 849.9,627.4 852.7,624.6 852.7,593.8 855.5,591.0 855.5,559.5 858.3,556.7 858.3,525.5 861.1,522.7 861.1,492.8 863.9,490.0 863.9,462.1 866.7,459.3 866.7,434.5 869.5,431.7 869.5,410.7 872.3,407.9 872.3,391.3 875.1,388.5 875.1,377.0 877.9,374.7 877.9,368.1 880.7,367.3 880.7,364.9 883.5,365.6 883.5,367.6 886.3,369.7 886.3,376.0 889.1,378.8 889.1,390.0 891.9,392.8 891.9,409.2 894.7,412.0 894.7,433.1 897.5,435.9 897.5,461.0 900.3,463.8 900.3,492.1 903.1,494.9 903.1,525.7 905.9,528.5 905.9,560.7 908.7,563.5 908.7,596.3 911.5,599.1 911.5,631.3 914.3,634.1 914.3,664.9 917.1,667.7 917.1,696.0 919.9,698.8 919.9,723.9 922.7,726.7 922.7,747.7 925.5,750.5 925.5,766.7 928.3,769.5 928.3,780.4 931.1,782.4 931.1,788.4 933.9,788.9 933.9,790.4 936.7,789.4 936.7,786.4 939.5,783.9 939.5,776.4 942.3,773.6 942.3,760.8 945.1,758.0 945.1,739.8 947.9,737.0 947.9,714.2 950.7,711.4 950.7,684.6 953.5,681.8 953.5,651.7 956.3,648.9 956.3,616.6 959.1,613.8 959.1,580.2 961.9,577.4 961.9,543.4 964.7,540.6 964.7,507.4 967.5,504.6 967.5,473.1 970.3,470.3 970.3,441.5 973.1,438.7 973.1,413.5 975.9,410.7 975.9,389.9 978.7,387.1 978.7,371.4 981.5,368.6 981.5,358.4 984.3,356.6 984.3,351.4 987.1,351.2 987.1,350.6 989.9,351.9 989.9,356.0 992.7,358.8 992.7,367.6 995.5,370.4 995.5,384.9 998.3,387.7 998.3,407.7 1001.1,410.5 1001.1,435.4 1003.9,438.2 1003.9,466.9 1006.7,469.7 1006.7,501.4 1009.5,504.2 1009.5,537.9 1012.3,540.7 1012.3,575.4 1015.1,578.2 1015.1,612.9 1017.9,615.7 1017.9,649.3 1020.7,652.1 1020.7,683.6 1023.5,686.4 1023.5,714.8 1026.3,717.6 1026.3,742.2 1029.1,745.0 1029.1,764.8 1031.9,767.6 1031.9,782.1 1034.7,784.9 1034.7,793.6 1037.5,795.0 1037.5,799.0 1040.3,798.8 1040.3,798.1 1043.1,796.4 1043.1,791.0 1045.9,788.2 1045.9,777.8 1048.7,775.0 1048.7,759.0 1051.5,756.2 1051.5,735.0 1054.3,732.2 1054.3,706.5 1057.1,703.7 1057.1,674.3 1059.9,671.5 1059.9,639.3 1062.7,636.5 1062.7,602.5 1065.5,599.7 1065.5,564.9 1068.3,562.1 1068.3,527.5 1071.1,524.7 1071.1,491.5 1073.9,488.7 1073.9,457.7 1076.7,454.9 1076.7,427.2 1079.5,424.4 1079.5,400.8 1082.3,398.0 1082.3,379.2 1085.1,376.4 1085.1,363.0 1087.9,360.5 1087.9,352.8 1090.7,351.7 1090.7,348.7 1093.5,349.2 1093.5,350.8 1096.3,352.9 1096.3,359.2 1099.1,362.0 1099.1,373.6 1101.9,376.4 1101.9,393.6 1104.7,396.4 1104.7,418.6 1107.5,421.4 1107.5,447.9 1110.3,450.7 1110.3,480.7 1113.1,483.5 1113.1,516.2 1115.9,519.0 1115.9,553.2 1118.7,556.0 1118.7,590.9 1121.5,593.7 1121.5,628.0 1124.3,630.8 1124.3,663.7 1127.1,666.5 1127.1,696.8 1129.9,699.6 1129.9,726.6 1132.7,729.4 1132.7,752.1 1135.5,754.9 1135.5,772.6 1138.3,775.4 1138.3,787.6 1141.1,789.8 1141.1,796.6 1143.9,797.3 1143.9,799.4 1146.7,798.6 1146.7,796.0 1149.5,793.5 1149.5,786.3 1152.3,783.5 1152.3,770.7 1155.1,767.9 1155.1,749.7 1157.9,746.9 1157.9,723.8 1160.7,721.0 1160.7,693.6 1163.5,690.8 1163.5,660.2 1166.3,657.4 1166.3,624.3 1169.1,621.5 1169.1,587.1 1171.9,584.3 1171.9,549.4 1174.7,546.6 1174.7,512.5 1177.5,509.7 1177.5,477.3 1180.3,474.5 1180.3,444.7 1183.1,441.9 1183.1,415.8 1185.9,413.0 1185.9,391.3 1188.7,388.5 1188.7,371.9 1191.5,369.1 1191.5,358.1 1194.3,356.1 1194.3,350.3 1197.1,349.9 1197.1,348.8 1199.9,350.0 1199.9,353.5 1202.7,356.2 1202.7,364.4 1205.5,367.2 1205.5,381.1 1208.3,383.9 1208.3,403.3 1211.1,406.1 1211.1,430.1 1213.9,432.9 1213.9,461.0 1216.7,463.8 1216.7,495.0 1219.5,497.8 1219.5,531.3 1222.3,534.1 1222.3,568.7 1225.1,571.5 1225.1,606.2 1227.9,609.0 1227.9,642.9 1230.7,645.7 1230.7,677.7 1233.5,680.5 1233.5,709.5 1236.3,712.3 1236.3,737.6 1239.1,740.4 1239.1,761.1 1241.9,763.9 1241.9,779.4 1244.7,782.2 1244.7,792.0 1247.5,793.6 1247.5,798.5 1250.3,798.6 1250.3,798.8 1253.1,797.2 1253.1,792.7 1255.9,789.9 1255.9,780.6 1258.7,777.8 1258.7,762.7 1261.5,759.9 1261.5,739.6 1264.3,736.8 1264.3,711.8 1267.1,709.0 1267.1,680.2 1269.9,677.4 1269.9,645.7 1272.7,642.9 1272.7,609.1 1275.5,606.3 1275.5,571.6 1278.3,568.8 1278.3,534.1 1281.1,531.3 1281.1,497.8 1283.9,495.0 1283.9,463.5 1286.7,460.7 1286.7,432.4 1289.5,429.6 1289.5,405.2 1292.3,402.4 1292.3,382.7 1295.1,379.9 1295.1,365.5 1297.9,362.7 1297.9,354.2 1300.7,352.8 1300.7,348.9 1303.5,349.2 1303.5,350.0 1306.3,351.8 1306.3,357.3 1309.1,360.1 1309.1,370.6 1311.9,373.4 1311.9,389.6 1314.7,392.4 1314.7,413.8 1317.5,416.6 1317.5,442.4 1320.3,445.2 1320.3,474.6 1323.1,477.4 1323.1,509.7 1325.9,512.5 1325.9,546.5 1328.7,549.3 1328.7,584.1 1331.5,586.9 1331.5,621.5 1334.3,624.3 1334.3,657.5 1337.1,660.3 1337.1,691.2 1339.9,694.0 1339.9,721.6 1342.7,724.4 1342.7,747.9 1345.5,750.7 1345.5,769.3 1348.3,772.1 1348.3,785.3 1351.1,787.8 1351.1,795.4 1353.9,796.4 1353.9,799.4 1356.7,798.8 1356.7,797.0 1359.5,794.9 1359.5,788.5 1362.3,785.7 1362.3,773.9 1365.1,771.1 1365.1,753.8 1367.9,751.0 1367.9,728.7 1370.7,725.9 1370.7,699.3 1373.5,696.5 1373.5,666.4 1376.3,663.6 1376.3,630.9 1379.1,628.1 1379.1,593.8 1381.9,591.0 1381.9,556.1 1384.7,553.3 1384.7,519.0 1387.5,516.2 1387.5,483.4 1390.3,480.6 1390.3,450.3 1393.1,447.5 1393.1,420.7 1395.9,417.9 1395.9,395.3 1398.7,392.5 1398.7,374.9 1401.5,372.1 1401.5,360.1 1404.3,357.9 1404.3,351.3 1407.1,350.6 1407.1,348.6 1409.9,349.5 1409.9,352.2 1412.7,354.7 1412.7,362.0 1415.5,364.8 1415.5,377.7 1418.3,380.5 1418.3,398.9 1421.1,401.7 1421.1,425.0 1423.9,427.8 1423.9,455.2 1426.7,458.0 1426.7,488.8 1429.5,491.6 1429.5,524.7 1432.3,527.5 1432.3,562.0 1435.1,564.8 1435.1,599.6 1437.9,602.4 1437.9,636.5 1440.7,639.3 1440.7,671.6 1443.5,674.4 1443.5,704.1 1446.3,706.9 1446.3,732.9 1449.1,735.7 1449.1,757.3 1451.9,760.1 1451.9,776.6 1454.7,779.4 1454.7,790.2 1457.5,792.1 1457.5,797.8 1460.3,798.1 1460.3,799.2 1463.1,797.9 1463.1,794.3 1465.9,791.5 1465.9,783.2 1468.7,780.4 1468.7,766.3 1471.5,763.5 1471.5,744.1 1474.3,741.3 1474.3,717.1 1477.1,714.3 1477.1,686.1 1479.9,683.3 1479.9,652.0 1482.7,649.2 1482.7,615.8 1485.5,613.0 1485.5,578.3 1488.3,575.5 1488.3,540.8 1491.1,538.0 1491.1,504.1 1493.9,501.3 1493.9,469.4 1496.7,466.6 1496.7,437.7 1499.5,434.9 1499.5,409.7 1502.3,406.9 1502.3,386.3 1505.1,383.5 1505.1,368.2 1507.9,365.4 1507.9,355.7 1510.7,354.2 1510.7,349.4 1513.5,349.4 1513.5,349.3 1516.3,350.9 1516.3,355.5 1519.1,358.3 1519.1,367.8 1521.9,370.6 1521.9,385.8 1524.7,388.6 1524.7,409.1 1527.5,411.9 1527.5,437.0 1530.3,439.8 1530.3,468.6 1533.1,471.4 1533.1,503.3 1535.9,506.1 1535.9,539.9 1538.7,542.7 1538.7,577.4 1541.5,580.2 1541.5,614.9 1544.3,617.7 1544.3,651.2 1547.1,654.0 1547.1,685.4 1549.9,688.2 1549.9,716.4 1552.7,719.2 1552.7,743.5 1555.5,746.3 1555.5,765.9 1558.3,768.7 1558.3,782.9 1561.1,785.7 1561.1,794.1 1563.9,795.3 1563.9,799.1 1566.7,798.8 1566.7,797.9 1569.5,796.0 1569.5,790.5 1572.3,787.7 1572.3,777.0 1575.1,774.2 1575.1,757.8 1577.9,755.0 1577.9,733.5 1580.7,730.7 1580.7,704.8 1583.5,702.0 1583.5,672.5 1586.3,669.7 1586.3,637.3 1589.1,634.5 1589.1,600.5 1591.9,597.7 1591.9,562.8 1594.7,560.0 1594.7,525.5 1597.5,522.7 1597.5,489.6 1600.3,486.8 1600.3,456.0 1603.1,453.2 1603.1,425.7 1605.9,422.9 1605.9,399.5 1608.7,396.7 1608.7,378.2 1611.5,375.4 1611.5,362.3 1614.3,359.8 1614.3,352.4 1617.1,351.4 1617.1,348.6 1619.9,349.2 1619.9,351.1 1622.7,353.3 1622.7,359.8 1625.5,362.6 1625.5,374.5 1628.3,377.3 1628.3,394.8 1631.1,397.6 1631.1,420.0 1633.9,422.8 1633.9,449.6 1636.7,452.4 1636.7,482.6 1639.5,485.4 1639.5,518.1 1642.3,520.9 1642.3,555.2 1645.1,558.0 1645.1,592.9 1647.9,595.7 1647.9,630.0 1650.7,632.8 1650.7,665.5 1653.5,668.3 1653.5,698.5 1656.3,701.3 1656.3,728.1 1659.1,730.9 1659.1,753.3 1661.9,756.1 1661.9,773.5 1664.7,776.3 1664.7,788.2 1667.5,790.4 1667.5,796.9 1670.3,797.5 1670.3,799.4 1673.1,798.4 1673.1,795.6 1675.9,793.1 1675.9,785.6 1678.7,782.8 1678.7,769.8 1681.5,767.0 1681.5,748.4 1684.3,745.6 1684.3,722.2 1687.1,719.4 1687.1,691.9 1689.9,689.1 1689.9,658.3 1692.7,655.5 1692.7,622.3 1695.5,619.5 1695.5,585.0 1698.3,582.2 1698.3,547.4 1701.1,544.6 1701.1,510.6" fill="none" stroke="#bf00bf" stroke-width="6" stroke-linejoin="miter"/>
<polyline points="295.0,574.0 295.0,491.7 298.3,494.5 298.3,504.4 301.1,507.2 301.1,519.3 303.9,522.1 303.9,536.1 306.7,538.9 306.7,554.4 309.5,557.2 309.5,573.8 312.3,576.6 312.3,593.7 315.1,596.5 315.1,613.6 317.9,616.4 317.9,632.9 320.7,635.7 320.7,651.0 323.5,653.8 323.5,667.3 326.3,670.1 326.3,681.3 329.1,684.1 329.1,692.6 331.9,694.6 331.9,700.7 334.7,701.9 334.7,705.5 337.5,705.8 337.5,706.8 340.3,706.1 340.3,704.3 343.1,702.8 343.1,698.3 345.9,695.9 345.9,688.7 348.7,685.9 348.7,676.0 351.5,673.2 351.5,660.2 354.3,657.4 354.3,642.0 357.1,639.2 357.1,621.8 359.9,619.0 359.9,600.1 362.7,597.3 362.7,577.6 365.5,574.8 365.5,554.8 368.3,552.0 368.3,532.5 371.1,529.7 371.1,511.1 373.9,508.3 373.9,491.4 376.7,488.6 376.7,473.9 379.5,471.1 379.5,459.1 382.3,456.3 382.3,447.4 385.1,445.3 385.1,439.1 387.9,438.0 387.9,434.7 390.7,434.5 390.7,434.0 393.5,434.9 393.5,437.3 396.3,439.1 396.3,444.4 399.1,447.1 399.1,455.2 401.9,458.0 401.9,469.4 404.7,472.2 404.7,486.6 407.5,489.4 407.5,506.3 410.3,509.1 410.3,528.0 413.1,530.8 413.1,551.1 415.9,553.9 415.9,575.0 418.7,577.8 418.7,599.0 421.5,601.8 421.5,622.5 424.3,625.3 424.3,644.7 427.1,647.5 427.1,665.0 429.9,667.8 429.9,682.9 432.7,685.7 432.7,697.9 435.5,700.7 435.5,709.4 438.3,711.4 438.3,717.3 441.1,718.2 441.1,721.2 443.9,721.1 443.9,721.0 446.7,719.9 446.7,716.6 449.5,714.6 449.5,708.3 452.3,705.5 452.3,696.2 455.1,693.4 455.1,680.6 457.9,677.8 457.9,661.9 460.7,659.1 460.7,640.7 463.5,637.9 463.5,617.5 466.3,614.7 466.3,592.9 469.1,590.1 469.1,567.7 471.9,564.9 471.9,542.6 474.7,539.8 474.7,518.2 477.5,515.4 477.5,495.2 480.3,492.4 480.3,474.3 483.1,471.5 483.1,456.1 485.9,453.3 485.9,441.1 488.7,438.3 488.7,429.7 491.5,427.9 491.5,422.3 494.3,421.6 494.3,419.2 497.1,419.4 497.1,420.3 499.9,421.7 499.9,425.7 502.7,428.1 502.7,435.3 505.5,438.1 505.5,448.9 508.3,451.7 508.3,466.0 511.1,468.8 511.1,486.2 513.9,489.0 513.9,508.9 516.7,511.7 516.7,533.6 519.5,536.4 519.5,559.6 522.3,562.4 522.3,586.0 525.1,588.8 525.1,612.3 527.9,615.1 527.9,637.6 530.7,640.4 530.7,661.3 533.5,664.1 533.5,682.7 536.3,685.5 536.3,701.1 539.1,703.9 539.1,716.0 541.9,718.8 541.9,727.1 544.7,728.8 544.7,733.9 547.5,734.5 547.5,736.3 550.3,735.8 550.3,734.2 553.1,732.6 553.1,727.6 555.9,724.8 555.9,716.6 558.7,713.8 558.7,701.7 561.5,698.9 561.5,683.0 564.3,680.2 564.3,661.3 567.1,658.5 567.1,637.0 569.9,634.2 569.9,610.8 572.7,608.0 572.7,583.4 575.5,580.6 575.5,555.7 578.3,552.9 578.3,528.4 581.1,525.6 581.1,502.2 583.9,499.4 583.9,477.8 586.7,475.0 586.7,456.1 589.5,453.3 589.5,437.6 592.3,434.8 592.3,422.7 595.1,420.1 595.1,412.1 597.9,410.5 597.9,405.9 600.7,405.5 600.7,404.4 603.5,405.2 603.5,407.6 606.3,409.5 606.3,415.5 609.1,418.3 609.1,427.8 611.9,430.6 611.9,444.3 614.7,447.1 614.7,464.5 617.5,467.3 617.5,487.8 620.3,490.6 620.3,513.7 623.1,516.5 623.1,541.4 625.9,544.2 625.9,570.1 628.7,572.9 628.7,599.0 631.5,601.8 631.5,627.4 634.3,630.2 634.3,654.4 637.1,657.2 637.1,679.3 639.9,682.1 639.9,701.3 642.7,704.1 642.7,719.9 645.5,722.7 645.5,734.5 648.3,737.1 648.3,744.7 651.1,746.1 651.1,750.2 653.9,750.3 653.9,750.7 656.7,749.6 656.7,746.3 659.5,744.0 659.5,737.1 662.3,734.3 662.3,723.3 665.1,720.5 665.1,705.3 667.9,702.5 667.9,683.5 670.7,680.7 670.7,658.5 673.5,655.7 673.5,631.1 676.3,628.3 676.3,601.9 679.1,599.1 679.1,571.9 681.9,569.1 681.9,541.8 684.7,539.0 684.7,512.4 687.5,509.6 687.5,484.7 690.3,481.9 690.3,459.3 693.1,456.5 693.1,437.0 695.9,434.2 695.9,418.4 698.7,415.6 698.7,404.2 701.5,401.8 701.5,394.6 704.3,393.4 704.3,389.9 707.1,390.1 707.1,390.4 709.9,391.8 709.9,396.1 712.7,398.7 712.7,406.7 715.5,409.5 715.5,422.0 718.3,424.8 718.3,441.7 721.1,444.5 721.1,465.1 723.9,467.9 723.9,491.7 726.7,494.5 726.7,520.7 729.5,523.5 729.5,551.3 732.3,554.1 732.3,582.7 735.1,585.5 735.1,613.9 737.9,616.7 737.9,644.2 740.7,647.0 740.7,672.6 743.5,675.4 743.5,698.4 746.3,701.2 746.3,720.8 749.1,723.6 749.1,739.2 751.9,742.0 751.9,753.1 754.7,755.4 754.7,762.0 757.5,763.0 757.5,765.8 760.3,765.4 760.3,764.1 763.1,762.4 763.1,757.2 765.9,754.4 765.9,745.1 768.7,742.3 768.7,728.1 771.5,725.3 771.5,706.8 774.3,704.0 774.3,681.7 777.1,678.9 777.1,653.5 779.9,650.7 779.9,623.0 782.7,620.2 782.7,590.9 785.5,588.1 785.5,558.3 788.3,555.5 788.3,526.0 791.1,523.2 791.1,494.8 793.9,492.0 793.9,465.8 796.7,463.0 796.7,439.7 799.5,436.9 799.5,417.2 802.3,414.4 802.3,399.0 805.1,396.2 805.1,385.6 807.9,383.6 807.9,377.5 810.7,376.8 810.7,374.8 813.5,375.5 813.5,377.6 816.3,379.7 816.3,386.0 819.1,388.8 819.1,399.6 821.9,402.4 821.9,418.2 824.7,421.0 824.7,441.2 827.5,444.0 827.5,467.9 830.3,470.7 830.3,497.8 833.1,500.6 833.1,529.9 835.9,532.7 835.9,563.4 838.7,566.2 838.7,597.2 841.5,600.0 841.5,630.6 844.3,633.4 844.3,662.5 847.1,665.3 847.1,692.1 849.9,694.9 849.9,718.5 852.7,721.3 852.7,740.9 855.5,743.7 855.5,758.8 858.3,761.6 858.3,771.6 861.1,773.4 861.1,778.9 863.9,779.3 863.9,780.5 866.7,779.4 866.7,776.3 869.5,773.9 869.5,766.5 872.3,763.7 872.3,751.3 875.1,748.5 875.1,731.0 877.9,728.2 877.9,706.3 880.7,703.5 880.7,677.8 883.5,675.0 883.5,646.3 886.3,643.5 886.3,612.7 889.1,609.9 889.1,577.8 891.9,575.0 891.9,542.7 894.7,539.9 894.7,508.4 897.5,505.6 897.5,475.7 900.3,472.9 900.3,445.7 903.1,442.9 903.1,419.2 905.9,416.4 905.9,396.9 908.7,394.1 908.7,379.4 911.5,376.6 911.5,367.3 914.3,365.7 914.3,361.0 917.1,360.9 917.1,360.5 919.9,361.9 919.9,366.1 922.7,368.9 922.7,377.4 925.5,380.2 925.5,394.3 928.3,397.1 928.3,416.3 931.1,419.1 931.1,442.8 933.9,445.6 933.9,473.0 936.7,475.8 936.7,506.1 939.5,508.9 939.5,541.3 942.3,544.1 942.3,577.5 945.1,580.3 945.1,613.8 947.9,616.6 947.9,649.0 950.7,651.8 950.7,682.3 953.5,685.1 953.5,712.7 956.3,715.5 956.3,739.3 959.1,742.1 959.1,761.4 961.9,764.2 961.9,778.4 964.7,781.2 964.7,789.7 967.5,791.0 967.5,795.0 970.3,794.8 970.3,794.1 973.1,792.4 973.1,787.1 975.9,784.3 975.9,774.2 978.7,771.4 978.7,755.6 981.5,752.8 981.5,731.8 984.3,729.0 984.3,703.6 987.1,700.8 987.1,671.6 989.9,668.8 989.9,636.8 992.7,634.0 992.7,600.2 995.5,597.4 995.5,562.6 998.3,559.8 998.3,525.3 1001.1,522.5 1001.1,489.4 1003.9,486.6 1003.9,455.8 1006.7,453.0 1006.7,425.5 1009.5,422.7 1009.5,399.4 1012.3,396.6 1012.3,378.1 1015.1,375.3 1015.1,362.3 1017.9,359.8 1017.9,352.3 1020.7,351.4 1020.7,348.6 1023.5,349.2 1023.5,351.1 1026.3,353.3 1026.3,359.9 1029.1,362.7 1029.1,374.6 1031.9,377.4 1031.9,394.9 1034.7,397.7 1034.7,420.2 1037.5,423.0 1037.5,449.7 1040.3,452.5 1040.3,482.8 1043.1,485.6 1043.1,518.3 1045.9,521.1 1045.9,555.5 1048.7,558.3 1048.7,593.1 1051.5,595.9 1051.5,630.2 1054.3,633.0 1054.3,665.7 1057.1,668.5 1057.1,698.7 1059.9,701.5 1059.9,728.2 1062.7,731.0 1062.7,753.4 1065.5,756.2 1065.5,773.6 1068.3,776.4 1068.3,788.3 1071.1,790.4 1071.1,796.9 1073.9,797.5 1073.9,799.4 1076.7,798.4 1076.7,795.6 1079.5,793.1 1079.5,785.5 1082.3,782.7 1082.3,769.6 1085.1,766.8 1085.1,748.3 1087.9,745.5 1087.9,722.1 1090.7,719.3 1090.7,691.7 1093.5,688.9 1093.5,658.1 1096.3,655.3 1096.3,622.1 1099.1,619.3 1099.1,584.8 1101.9,582.0 1101.9,547.2 1104.7,544.4 1104.7,510.3 1107.5,507.5 1107.5,475.2 1110.3,472.4 1110.3,442.9 1113.1,440.1 1113.1,414.2 1115.9,411.4 1115.9,390.0 1118.7,387.2 1118.7,370.9 1121.5,368.1 1121.5,357.5 1124.3,355.6 1124.3,350.0 1127.1,349.8 1127.1,348.9 1129.9,350.2 1129.9,354.0 1132.7,356.8 1132.7,365.2 1135.5,368.0 1135.5,382.3 1138.3,385.1 1138.3,404.7 1141.1,407.5 1141.1,431.9 1143.9,434.7 1143.9,462.9 1146.7,465.7 1146.7,497.1 1149.5,499.9 1149.5,533.5 1152.3,536.3 1152.3,570.9 1155.1,573.7 1155.1,608.5 1157.9,611.3 1157.9,645.0 1160.7,647.8 1160.7,679.6 1163.5,682.4 1163.5,711.3 1166.3,714.1 1166.3,739.1 1169.1,741.9 1169.1,762.4 1171.9,765.2 1171.9,780.3 1174.7,783.1 1174.7,792.6 1177.5,794.1 1177.5,798.7 1180.3,798.7 1180.3,798.6 1183.1,797.0 1183.1,792.2 1185.9,789.4 1185.9,779.7 1188.7,776.9 1188.7,761.5 1191.5,758.7 1191.5,738.1 1194.3,735.3 1194.3,710.1 1197.1,707.3 1197.1,678.3 1199.9,675.5 1199.9,643.6 1202.7,640.8 1202.7,606.9 1205.5,604.1 1205.5,569.3 1208.3,566.5 1208.3,531.9 1211.1,529.1 1211.1,495.7 1213.9,492.9 1213.9,461.6 1216.7,458.8 1216.7,430.6 1219.5,427.8 1219.5,403.7 1222.3,400.9 1222.3,381.5 1225.1,378.7 1225.1,364.7 1227.9,361.9 1227.9,353.7 1230.7,352.5 1230.7,348.8 1233.5,349.2 1233.5,350.2 1236.3,352.1 1236.3,357.9 1239.1,360.7 1239.1,371.6 1241.9,374.4 1241.9,390.9 1244.7,393.7 1244.7,415.3 1247.5,418.1 1247.5,444.2 1250.3,447.0 1250.3,476.7 1253.1,479.5 1253.1,511.8 1255.9,514.6 1255.9,548.8 1258.7,551.6 1258.7,586.4 1261.5,589.2 1261.5,623.7 1264.3,626.5 1264.3,659.6 1267.1,662.4 1267.1,693.1 1269.9,695.9 1269.9,723.2 1272.7,726.0 1272.7,749.3 1275.5,752.1 1275.5,770.4 1278.3,773.2 1278.3,786.1 1281.1,788.5 1281.1,795.8 1283.9,796.7 1283.9,799.4 1286.7,798.7 1286.7,796.7 1289.5,794.5 1289.5,787.8 1292.3,785.0 1292.3,772.9 1295.1,770.1 1295.1,752.5 1297.9,749.7 1297.9,727.1 1300.7,724.3 1300.7,697.4 1303.5,694.6 1303.5,664.3 1306.3,661.5 1306.3,628.7 1309.1,625.9 1309.1,591.5 1311.9,588.7 1311.9,553.9 1314.7,551.1 1314.7,516.8 1317.5,514.0 1317.5,481.3 1320.3,478.5 1320.3,448.4 1323.1,445.6 1323.1,419.0 1325.9,416.2 1325.9,394.0 1328.7,391.2 1328.7,373.9 1331.5,371.1 1331.5,359.4 1334.3,357.3 1334.3,350.9 1337.1,350.3 1337.1,348.6 1339.9,349.6 1339.9,352.6 1342.7,355.2 1342.7,362.8 1345.5,365.6 1345.5,378.9 1348.3,381.7 1348.3,400.4 1351.1,403.2 1351.1,426.7 1353.9,429.5 1353.9,457.1 1356.7,459.9 1356.7,490.8 1359.5,493.6 1359.5,526.9 1362.3,529.7 1362.3,564.2 1365.1,567.0 1365.1,601.8 1367.9,604.6 1367.9,638.6 1370.7,641.4 1370.7,673.7 1373.5,676.5 1373.5,705.9 1376.3,708.7 1376.3,734.5 1379.1,737.3 1379.1,758.6 1381.9,761.4 1381.9,777.5 1384.7,780.3 1384.7,790.8 1387.5,792.6 1387.5,798.1 1390.3,798.3 1390.3,799.1 1393.1,797.7 1393.1,793.8 1395.9,791.0 1395.9,782.4 1398.7,779.6 1398.7,765.2 1401.5,762.4 1401.5,742.6 1404.3,739.8 1404.3,715.4 1407.1,712.6 1407.1,684.2 1409.9,681.4 1409.9,649.9 1412.7,647.1 1412.7,613.5 1415.5,610.7 1415.5,576.1 1418.3,573.3 1418.3,538.5 1421.1,535.7 1421.1,502.0 1423.9,499.2 1423.9,467.5 1426.7,464.7 1426.7,435.9 1429.5,433.1 1429.5,408.2 1432.3,405.4 1432.3,385.1 1435.1,382.3 1435.1,367.3 1437.9,364.5 1437.9,355.2 1440.7,353.7 1440.7,349.2 1443.5,349.3 1443.5,349.5 1446.3,351.2 1446.3,356.1 1449.1,358.9 1449.1,368.7 1451.9,371.5 1451.9,387.1 1454.7,389.9 1454.7,410.6 1457.5,413.4 1457.5,438.7 1460.3,441.5 1460.3,470.6 1463.1,473.4 1463.1,505.4 1465.9,508.2 1465.9,542.1 1468.7,544.9 1468.7,579.7 1471.5,582.5 1471.5,617.1 1474.3,619.9 1474.3,653.3 1477.1,656.1 1477.1,687.3 1479.9,690.1 1479.9,718.1 1482.7,720.9 1482.7,745.0 1485.5,747.8 1485.5,767.0 1488.3,769.8 1488.3,783.7 1491.1,786.4 1491.1,794.5 1493.9,795.7 1493.9,799.2 1496.7,798.8 1496.7,797.6 1499.5,795.7 1499.5,789.8 1502.3,787.0 1502.3,776.0 1505.1,773.2 1505.1,756.5 1507.9,753.7 1507.9,731.9 1510.7,729.1 1510.7,703.0 1513.5,700.2 1513.5,670.4 1516.3,667.6 1516.3,635.2 1519.1,632.4 1519.1,598.2 1521.9,595.4 1521.9,560.6 1524.7,557.8 1524.7,523.4 1527.5,520.6 1527.5,487.5 1530.3,484.7 1530.3,454.1 1533.1,451.3 1533.1,424.0 1535.9,421.2 1535.9,398.1 1538.7,395.3 1538.7,377.1 1541.5,374.3 1541.5,361.6 1544.3,359.2 1544.3,352.0 1547.1,351.1 1547.1,348.6 1549.9,349.3 1549.9,351.5 1552.7,353.7 1552.7,360.5 1555.5,363.3 1555.5,375.6 1558.3,378.4 1558.3,396.1 1561.1,398.9 1561.1,421.7 1563.9,424.5 1563.9,451.4 1566.7,454.2 1566.7,484.6 1569.5,487.4 1569.5,520.3 1572.3,523.1 1572.3,557.5 1575.1,560.3 1575.1,595.1 1577.9,597.9 1577.9,632.2 1580.7,635.0 1580.7,667.6 1583.5,670.4 1583.5,700.4 1586.3,703.2 1586.3,729.7 1589.1,732.5 1589.1,754.6 1591.9,757.4 1591.9,774.6 1594.7,777.4 1594.7,788.9 1597.5,791.0 1597.5,797.2 1600.3,797.8 1600.3,799.3 1603.1,798.3 1603.1,795.2 1605.9,792.6 1605.9,784.8 1608.7,782.0 1608.7,768.6 1611.5,765.8 1611.5,747.0 1614.3,744.2 1614.3,720.5 1617.1,717.7 1617.1,690.0 1619.9,687.2 1619.9,656.2 1622.7,653.4 1622.7,620.2 1625.5,617.4 1625.5,582.8 1628.3,580.0 1628.3,545.2 1631.1,542.4 1631.1,508.4 1633.9,505.6 1633.9,473.4 1636.7,470.6 1636.7,441.3 1639.5,438.5 1639.5,412.8 1642.3,410.0 1642.3,388.8 1645.1,386.0 1645.1,370.0 1647.9,367.2 1647.9,356.9 1650.7,355.1 1650.7,349.8 1653.5,349.6 1653.5,349.0 1656.3,350.4 1656.3,354.5 1659.1,357.3 1659.1,366.0 1661.9,368.8 1661.9,383.4 1664.7,386.2 1664.7,406.1 1667.5,408.9 1667.5,433.4 1670.3,436.2 1670.3,464.7 1673.1,467.5 1673.1,499.0 1675.9,501.8 1675.9,535.4 1678.7,538.2 1678.7,572.9 1681.5,575.7 1681.5,610.5 1684.3,613.3 1684.3,647.0 1687.1,649.8 1687.1,681.4 1689.9,684.2 1689.9,712.9 1692.7,715.7 1692.7,740.5 1695.5,743.3 1695.5,763.5 1698.3,766.3 1698.3,781.1 1701.1,783.9 1701.1,793.1" fill="none" stroke="#bfbf00" stroke-width="6" stroke-linejoin="miter"/>
<path d="M295.5 574.0V701.0M295.5 693.9V708.7M296.5 695.7V709.9M297.5 697.6V712.3M298.5 692.1V709.5M299.5 696.1V708.0M300.5 696.5V710.7M301.5 696.5V709.3M302.5 692.6V713.0M303.5 697.6V710.8M304.5 694.1V713.6M305.5 695.4V712.0M306.5 696.7V712.7M307.5 695.5V712.6M308.5 699.2V712.8M309.5 698.8V709.1M310.5 698.1V709.8M312.5 695.6V712.4M313.5 696.2V710.2M314.5 700.3V701.6M315.5 699.5V710.9M316.5 695.6V713.0M317.5 697.1V714.2M318.5 697.1V713.7M319.5 709.2V710.6M320.5 696.7V711.2M321.5 708.5V710.2M322.5 701.8V705.0M323.5 700.4V715.0M324.5 699.9V711.4M325.5 701.3V714.4M326.5 709.6V712.9M327.5 702.1V716.5M328.5 700.6V703.5M329.5 698.9V700.2M330.5 698.9V714.4M332.5 699.2V716.7M334.5 701.6V714.5M335.5 699.3V717.7M336.5 701.1V715.7M337.5 699.5V714.4M338.5 701.7V716.3M339.5 702.6V713.6M340.5 698.6V716.5M341.5 703.3V716.3M343.5 703.1V715.4M346.5 703.0V714.6M347.5 703.0V717.3M348.5 711.8V712.9M349.5 703.2V706.4M350.5 701.3V716.2M351.5 701.0V714.7M352.5 703.1V717.9M353.5 711.4V714.3M354.5 704.0V715.6M355.5 703.3V717.5M356.5 703.7V708.4M357.5 700.9V717.1M358.5 701.7V719.0M360.5 705.9V719.0M361.5 706.0V721.9M362.5 716.2V718.5M364.5 705.5V719.4M365.5 704.2V719.7M366.5 704.4V717.2M367.5 704.4V720.5M368.5 703.7V719.0M369.5 705.5V720.4M370.5 706.6V723.0M371.5 702.4V719.6M372.5 706.4V717.5M373.5 713.9V718.1M374.5 706.0V719.9M375.5 703.0V719.7M376.5 705.7V722.9M377.5 706.7V722.4M378.5 709.8V711.7M379.5 709.1V712.6M380.5 709.1V719.6M381.5 707.9V720.4M382.5 709.0V721.4M383.5 704.8V723.4M385.5 710.2V714.9M386.5 704.6V720.4M387.5 711.6V715.9M388.5 706.4V722.4M389.5 708.1V725.8M390.5 707.9V722.7M391.5 710.7V722.3M392.5 710.7V721.1M394.5 712.7V717.5M395.5 707.0V722.7M396.5 711.7V724.2M397.5 709.0V721.7M398.5 712.0V726.7M400.5 710.0V725.3M401.5 709.4V713.4M403.5 707.0V724.9M404.5 722.8V724.0M405.5 713.0V724.6M406.5 709.4V723.6M407.5 711.2V726.3M408.5 710.4V726.5M409.5 712.6V722.8M410.5 713.4V726.4M411.5 710.0V726.9M412.5 709.9V726.1M413.5 709.9V723.9M414.5 714.1V728.2M415.5 713.0V726.1M416.5 711.7V723.7M417.5 714.1V728.5M418.5 717.7V722.6M419.5 712.0V714.7M420.5 710.7V727.9M421.5 723.4V727.7M422.5 713.0V725.3M423.5 715.1V727.3M424.5 713.4V727.8M425.5 710.0V725.8M426.5 710.4V726.4M427.5 713.9V727.7M428.5 716.5V721.5M430.5 715.5V728.1M431.5 716.4V728.4M432.5 715.4V726.7M433.5 713.6V726.5M434.5 726.6V728.5M435.5 714.0V728.9M436.5 716.2V720.2M437.5 725.5V726.9M438.5 717.4V728.6M439.5 715.5V716.8M440.5 717.6V729.9M441.5 718.9V721.3M442.5 719.2V723.0M443.5 712.5V732.3M444.5 718.4V721.0M446.5 717.4V729.4M447.5 716.7V733.0M448.5 723.4V727.5M449.5 720.6V723.7M450.5 715.5V731.6M451.5 716.4V728.8M453.5 719.2V731.4M454.5 716.9V732.0M455.5 716.2V731.1M456.5 717.4V734.0M457.5 727.9V732.1M459.5 718.5V732.8M460.5 720.2V733.7M461.5 720.1V731.1M462.5 721.0V722.5M463.5 716.8V732.0M464.5 717.3V731.1M465.5 718.6V731.4M466.5 720.9V735.2M467.5 716.8V734.3M468.5 720.7V725.5M469.5 721.8V736.6M470.5 720.1V735.1M471.5 722.3V732.8M472.5 731.4V733.0M473.5 721.6V736.6M474.5 718.2V732.3M475.5 720.3V724.7M476.5 723.2V727.0M477.5 721.3V737.3M478.5 720.9V723.5M479.5 720.8V722.6M480.5 723.0V737.2M481.5 722.5V735.6M482.5 723.4V734.7M484.5 722.6V734.1M485.5 724.2V738.9M486.5 723.3V735.6M487.5 723.0V734.6M488.5 723.4V738.8M489.5 722.2V723.6M490.5 722.3V734.7M491.5 719.9V735.0M492.5 723.6V737.9M493.5 722.8V740.0M494.5 723.9V736.1M496.5 735.3V736.4M497.5 723.4V736.5M498.5 720.5V735.7M500.5 724.4V738.2M501.5 733.3V737.6M502.5 721.4V736.0M503.5 724.0V739.5M504.5 726.5V740.2M505.5 734.2V737.4M506.5 721.2V741.4M507.5 722.8V740.9M508.5 723.1V736.8M509.5 723.7V742.0M510.5 724.8V739.2M511.5 728.4V731.3M512.5 725.8V739.1M513.5 726.9V737.4M514.5 725.1V728.5M515.5 726.0V740.5M516.5 736.8V741.1M517.5 735.2V738.4M518.5 726.8V741.5M519.5 726.2V743.5M520.5 724.6V738.5M521.5 727.3V738.5M522.5 735.9V738.2M523.5 729.3V744.5M525.5 725.5V741.2M526.5 727.6V729.1M527.5 726.2V740.4M528.5 726.7V744.1M529.5 730.3V743.0M530.5 726.9V744.5M531.5 727.0V744.1M532.5 730.0V731.7M534.5 730.4V744.3M535.5 730.0V746.0M536.5 729.5V734.2M537.5 730.7V743.4M538.5 730.8V743.9M539.5 728.3V741.8M540.5 726.7V743.6M541.5 727.3V743.3M542.5 731.1V744.5M543.5 729.4V742.5M544.5 729.0V745.6M545.5 727.9V746.7M546.5 730.3V744.5M547.5 738.6V743.0M548.5 743.7V745.4M549.5 730.8V744.0M550.5 742.9V744.9M551.5 731.2V742.7M552.5 731.4V747.0M553.5 731.8V744.6M554.5 729.8V748.1M555.5 729.6V744.3M556.5 731.8V744.3M557.5 731.1V744.4M558.5 731.2V747.6M559.5 733.8V747.7M560.5 728.8V745.6M561.5 735.2V739.8M562.5 733.9V744.4M563.5 729.7V745.1M564.5 734.4V748.1M565.5 731.6V744.7M566.5 735.4V747.4M567.5 744.9V747.7M568.5 731.2V749.4M569.5 733.9V745.9M570.5 735.0V749.2M572.5 736.2V746.9M573.5 735.9V747.2M574.5 743.2V745.6M575.5 732.2V751.4M576.5 736.9V739.5M577.5 732.5V751.2M578.5 736.4V746.9M579.5 736.2V748.6M580.5 736.6V749.3M581.5 736.6V748.4M582.5 733.4V748.3M583.5 737.9V749.3M585.5 734.6V750.1M587.5 736.9V738.3M588.5 738.5V749.0M589.5 738.2V749.8M590.5 738.1V749.4M591.5 736.8V750.4M592.5 738.8V741.3M593.5 739.2V750.8M594.5 738.6V750.0M595.5 744.8V748.5M596.5 737.4V753.6M597.5 734.4V751.5M598.5 739.0V754.9M599.5 736.2V751.3M600.5 736.5V750.2M601.5 739.6V751.7M602.5 738.7V751.9M603.5 737.5V754.5M604.5 736.3V752.8M606.5 739.6V742.6M607.5 740.3V752.5M608.5 740.2V752.6M609.5 741.4V753.5M610.5 738.7V751.5M612.5 740.1V755.9M613.5 740.2V742.5M614.5 736.7V756.5M615.5 740.0V757.1M616.5 740.0V752.4M617.5 739.0V756.1M618.5 751.0V753.6M620.5 742.7V753.4M622.5 743.4V754.4M623.5 740.4V757.2M624.5 740.7V757.6M625.5 753.8V755.4M626.5 740.3V755.0M627.5 744.1V753.8M628.5 743.4V754.8M629.5 744.2V758.1M630.5 742.7V758.0M631.5 750.1V754.3M632.5 742.7V756.4M633.5 739.3V758.9M634.5 752.5V753.6M635.5 745.0V757.3M636.5 745.4V758.3M637.5 742.4V760.1M638.5 740.1V760.7M639.5 741.1V755.9M640.5 744.6V746.5M641.5 743.5V759.9M642.5 745.2V759.9M643.5 743.5V758.4M644.5 745.9V756.2M645.5 746.7V757.3M646.5 743.1V759.4M647.5 742.8V760.9M648.5 746.6V750.4M649.5 744.6V760.9M650.5 743.5V759.0M651.5 746.7V760.1M652.5 754.5V757.7M653.5 742.5V759.5M654.5 747.1V759.3M655.5 745.6V759.5M656.5 744.0V761.2M657.5 746.2V751.2M658.5 744.3V762.5M659.5 743.4V763.3M660.5 760.0V761.3M661.5 753.5V757.7M662.5 745.6V759.2M663.5 747.0V763.2M664.5 743.7V763.5M665.5 755.3V757.8M666.5 748.3V764.3M667.5 748.3V764.0M668.5 746.5V748.3M669.5 744.6V761.8M670.5 748.9V761.8M671.5 747.6V759.9M672.5 757.2V758.7M673.5 758.2V759.9M674.5 747.8V761.0M675.5 748.4V763.2M676.5 749.0V764.8M677.5 749.8V752.0M678.5 748.6V752.3M679.5 746.7V762.9M680.5 750.0V762.4M681.5 749.8V753.5M682.5 751.4V765.4M683.5 748.8V766.2M684.5 748.6V762.6M685.5 749.7V764.9M686.5 750.8V753.7M687.5 751.4V764.0M689.5 750.3V753.9M690.5 748.9V763.6M691.5 749.2V763.7M692.5 750.3V763.0M693.5 750.5V765.7M694.5 758.8V761.7M695.5 747.8V766.8M696.5 751.7V766.0M697.5 753.5V763.5M698.5 753.0V767.7M699.5 753.4V765.5M700.5 750.2V767.7M701.5 760.7V764.1M703.5 754.2V769.3M704.5 753.8V755.0M705.5 751.3V767.5M706.5 755.0V764.7M707.5 754.5V758.1M709.5 752.1V765.9M710.5 755.5V758.2M711.5 754.3V765.2M712.5 755.0V758.2M713.5 755.9V766.5M714.5 753.4V765.4M715.5 752.5V769.4M716.5 755.2V768.1M717.5 754.8V768.8M718.5 756.0V769.1M719.5 752.3V768.8M720.5 751.6V767.5M721.5 766.9V768.1M722.5 755.9V759.1M723.5 757.6V772.2M724.5 754.9V769.5M726.5 753.2V771.8M727.5 757.8V770.2M728.5 755.0V769.6M729.5 757.3V772.6M730.5 758.1V761.2M731.5 755.9V758.8M732.5 757.4V771.6M733.5 757.5V772.3M734.5 757.8V759.6M735.5 757.9V770.4M736.5 756.1V770.8M737.5 755.0V769.6M738.5 757.5V769.0M739.5 757.8V760.6M740.5 756.1V774.0M741.5 757.2V770.4M742.5 758.3V761.6M743.5 759.9V775.0M744.5 758.2V760.1M745.5 758.3V772.8M746.5 755.0V771.3M747.5 765.6V770.0M748.5 761.4V762.5M749.5 760.1V770.8M750.5 760.3V772.5M751.5 758.8V763.2M752.5 758.8V773.4M753.5 769.5V770.7M754.5 759.6V761.5M755.5 759.2V776.2M756.5 761.4V775.5M757.5 765.7V770.3M758.5 762.1V776.2M759.5 760.9V762.2M760.5 758.9V775.3M761.5 767.8V770.9M762.5 761.7V772.9M763.5 771.9V773.2M764.5 759.5V773.0M765.5 760.7V778.5M768.5 761.6V775.4M769.5 759.9V777.0M770.5 760.8V777.3M771.5 759.0V775.7M773.5 761.5V779.3M774.5 763.4V776.9M775.5 762.9V776.7M776.5 761.6V774.7M777.5 762.1V775.2M778.5 763.3V777.9M779.5 764.3V777.4M780.5 774.5V775.9M781.5 766.2V768.9M782.5 764.5V780.9M783.5 762.9V779.8M784.5 766.3V769.7M785.5 776.9V778.0M786.5 766.2V779.8M787.5 760.7V780.3M788.5 764.7V769.5M789.5 764.2V781.4M790.5 774.9V776.4M791.5 763.1V777.6M792.5 766.6V778.5M793.5 764.4V780.3M794.5 767.3V779.7M795.5 773.7V776.1M796.5 764.7V781.8M797.5 763.1V780.8M798.5 765.9V768.5M799.5 767.6V778.2M800.5 765.3V780.1M801.5 768.5V777.8M802.5 767.3V780.2M803.5 765.3V779.6M804.5 767.7V782.5M806.5 768.3V773.2M807.5 766.6V780.8M808.5 765.0V781.3M809.5 767.7V783.8M810.5 767.9V781.2M811.5 769.6V780.9M812.5 765.6V779.5M813.5 767.6V771.8M814.5 765.4V781.6M815.5 778.3V780.5M816.5 778.1V779.9M817.5 765.2V785.7M818.5 777.8V782.0M819.5 768.6V770.8M820.5 767.2V781.6M821.5 778.7V783.5M822.5 768.9V784.5M823.5 772.3V776.0M825.5 769.1V784.4M826.5 780.7V784.0M827.5 779.7V782.2M828.5 771.7V785.8M829.5 767.1V782.8M830.5 770.1V785.4M831.5 767.0V785.6M832.5 767.4V783.1M833.5 773.0V787.2M834.5 772.2V784.6M835.5 773.1V783.8M836.5 768.2V784.1M837.5 769.8V784.4M838.5 780.5V784.1M840.5 770.1V783.8M841.5 775.0V778.2M842.5 771.4V786.4M843.5 772.7V783.9M844.5 768.9V783.9M845.5 773.0V785.5M846.5 773.3V786.6M847.5 772.2V784.3M848.5 774.9V786.1M849.5 769.6V786.7M850.5 771.2V785.4M851.5 782.6V785.2M852.5 773.3V777.1M853.5 774.2V786.2M854.5 774.8V789.9M855.5 771.3V788.8M856.5 782.1V785.8M857.5 774.3V779.1M858.5 774.9V786.5M859.5 786.8V789.1M860.5 776.3V780.4M861.5 776.1V790.0M862.5 773.0V789.4M863.5 775.8V779.7M864.5 785.8V787.8M865.5 775.4V790.9M866.5 775.6V780.4M867.5 775.7V787.5M868.5 772.7V790.2M869.5 775.7V789.3M870.5 788.1V790.5M871.5 778.4V782.2M872.5 773.8V789.0M873.5 777.2V788.3M874.5 773.0V788.6M875.5 775.8V789.0M876.5 779.0V793.8M877.5 776.5V791.8M878.5 778.1V791.7M879.5 775.6V789.4M880.5 775.8V790.4M881.5 774.0V789.5M882.5 779.1V794.7M883.5 779.2V789.3M884.5 777.5V780.7M885.5 780.2V793.3M886.5 776.4V789.6M887.5 780.8V784.5M888.5 780.0V782.1M889.5 779.5V791.1M890.5 779.8V791.2M891.5 776.3V791.5M892.5 788.3V792.0M893.5 788.5V791.1M894.5 779.5V793.8M895.5 783.2V785.4M896.5 776.7V791.7M898.5 790.6V793.4M899.5 778.8V797.2M900.5 782.8V787.6M901.5 781.4V796.7M902.5 779.3V780.4M903.5 780.4V794.2M904.5 791.0V794.4M905.5 781.3V797.5M906.5 781.2V794.6M907.5 782.6V793.3M908.5 778.9V797.7M909.5 782.7V798.2M910.5 785.2V789.4M911.5 783.9V794.9M912.5 784.4V788.7M913.5 781.9V797.4M914.5 781.2V796.3M915.5 780.7V794.7M916.5 790.8V792.6M917.5 781.5V797.8M918.5 790.6V794.4M919.5 783.2V796.3M920.5 781.4V795.6M921.5 781.8V796.4M922.5 780.4V795.3M923.5 782.9V784.0M924.5 782.5V797.8M925.5 789.5V793.8M926.5 786.0V798.6M927.5 786.1V800.5M928.5 787.4V789.5M929.5 785.8V796.2M930.5 785.2V798.0M931.5 784.9V798.3M932.5 786.9V801.2M933.5 783.4V797.7M934.5 785.2V789.9M935.5 786.2V802.0M937.5 784.3V800.9M938.5 797.2V799.6M939.5 782.2V800.5M941.5 784.0V799.5M942.5 784.3V798.5M943.5 787.8V801.0M944.5 788.3V792.1M945.5 784.4V799.2M946.5 788.9V799.0M947.5 793.0V796.9M948.5 786.3V804.1M949.5 787.8V801.3M950.5 788.9V804.4M951.5 789.0V800.3M952.5 787.5V802.7M953.5 789.8V802.2M954.5 799.4V801.8M955.5 790.1V799.3M956.5 788.2V801.8M957.5 791.4V795.1M959.5 787.3V803.7M960.5 785.6V799.9M961.5 788.6V802.1M962.5 788.8V804.1M963.5 790.5V793.6M964.5 788.4V791.3M965.5 790.2V804.7M966.5 789.0V801.3M967.5 788.8V802.1M968.5 787.6V804.6M969.5 791.6V806.7M970.5 791.5V803.7M971.5 787.8V804.6M972.5 790.0V805.2M973.5 794.0V797.4M974.5 789.2V804.4M975.5 787.1V803.3M977.5 792.3V793.8M978.5 787.7V804.6M979.5 790.6V807.2M980.5 790.8V803.2M981.5 790.5V805.4M982.5 793.3V808.2M983.5 791.7V806.2M984.5 788.3V805.9M985.5 792.9V804.8M986.5 789.0V806.9M987.5 793.7V804.1M989.5 794.5V806.5M990.5 795.3V799.4M991.5 790.5V805.1M992.5 794.3V804.5M993.5 790.9V805.0M994.5 790.5V806.5M995.5 795.7V806.2M996.5 792.8V797.3M997.5 792.8V807.3M998.5 794.4V809.0M999.5 790.1V810.4M1000.5 790.7V807.2M1001.5 793.2V807.3M1003.5 795.9V808.9M1004.5 794.2V806.2M1005.5 793.3V797.5M1006.5 795.7V809.2M1007.5 790.9V806.7M1008.5 794.2V807.8M1009.5 795.3V807.4M1010.5 790.4V805.7M1012.5 790.4V809.5M1013.5 795.1V810.9M1014.5 794.6V807.7M1015.5 802.9V805.7M1016.5 794.2V807.9M1017.5 795.5V806.6M1018.5 795.7V808.8M1019.5 796.0V798.5M1020.5 793.7V809.8M1021.5 796.0V809.5M1022.5 802.2V804.0M1023.5 790.6V806.9M1024.5 792.9V808.3M1025.5 803.6V808.4M1026.5 791.7V809.3M1027.5 792.7V805.9M1029.5 794.9V806.7M1030.5 806.4V807.7M1031.5 794.7V805.3M1032.5 793.9V807.3M1033.5 793.4V807.0M1034.5 795.9V806.3M1035.5 794.1V808.6M1036.5 794.0V805.5M1037.5 803.7V806.0M1038.5 803.2V807.5M1039.5 793.4V807.2M1040.5 792.8V809.2M1041.5 801.9V806.6M1042.5 794.6V809.4M1043.5 793.0V808.0M1044.5 792.0V808.0M1045.5 803.6V804.9M1046.5 799.1V803.9M1047.5 794.1V805.5M1049.5 795.0V805.5M1050.5 794.2V807.4M1053.5 794.2V807.5M1054.5 791.4V805.4M1055.5 792.7V806.0M1056.5 790.3V805.5M1058.5 803.2V807.3M1059.5 794.0V806.4M1060.5 792.2V806.0M1063.5 790.9V808.0M1065.5 793.1V808.6M1066.5 803.3V806.9M1067.5 794.4V795.6M1068.5 792.8V805.9M1069.5 793.9V805.1M1070.5 795.2V806.7M1072.5 793.2V796.7M1073.5 794.6V805.3M1074.5 794.2V798.8M1075.5 802.8V807.6M1076.5 791.1V807.5M1077.5 790.8V805.1M1078.5 805.1V808.5M1079.5 805.7V808.5M1080.5 796.0V806.5M1081.5 796.2V799.9M1082.5 794.5V807.5M1083.5 791.4V809.5M1084.5 796.0V808.6M1085.5 794.0V807.2M1086.5 794.9V810.6M1087.5 803.9V807.9M1088.5 793.1V811.0M1089.5 794.7V798.2M1090.5 792.2V806.1M1091.5 797.2V800.9M1092.5 794.8V806.3M1095.5 792.8V807.4M1096.5 792.3V807.9M1097.5 792.9V808.6M1098.5 804.7V805.8M1099.5 794.9V799.6M1100.5 793.2V806.4M1101.5 802.5V805.6M1102.5 792.5V808.1M1103.5 796.1V810.6M1104.5 802.2V803.9M1105.5 793.6V809.7M1106.5 795.5V807.0M1107.5 792.3V808.4M1108.5 795.9V808.6M1109.5 795.1V808.4M1110.5 796.8V801.6M1112.5 794.6V809.2M1113.5 792.5V805.4M1114.5 794.3V807.7M1115.5 795.8V808.3M1116.5 791.6V808.2M1117.5 793.9V808.9M1118.5 796.6V799.5M1119.5 795.7V806.7M1120.5 792.3V810.8M1121.5 791.7V808.8M1122.5 795.6V808.3M1123.5 795.6V805.6M1124.5 793.5V810.7M1125.5 795.5V805.2M1126.5 804.6V807.6M1128.5 791.6V805.3M1129.5 806.3V808.5M1130.5 790.1V810.8M1131.5 794.5V795.7M1133.5 793.8V806.9M1134.5 792.8V808.5M1135.5 795.8V810.2M1136.5 794.2V805.5M1137.5 795.5V810.3M1138.5 802.3V804.4M1139.5 803.3V806.8M1140.5 794.3V810.9M1141.5 795.9V806.7M1142.5 796.5V797.6M1143.5 790.3V805.1M1144.5 793.6V810.6M1145.5 794.9V809.6M1146.5 805.6V808.0M1147.5 801.3V804.8M1148.5 795.9V806.0M1149.5 791.8V809.6M1150.5 790.4V811.0M1151.5 790.8V806.4M1152.5 795.1V808.5M1153.5 797.4V799.9M1154.5 791.0V807.5M1155.5 793.8V806.0M1156.5 792.5V809.6M1157.5 794.2V808.2M1158.5 794.9V805.8M1159.5 795.4V807.5M1160.5 793.6V806.9M1161.5 793.9V797.2M1162.5 802.2V806.3M1163.5 794.3V807.9M1164.5 790.1V809.0M1165.5 795.7V807.4M1166.5 804.7V807.5M1167.5 803.5V806.7M1168.5 795.7V807.9M1169.5 791.1V807.1M1170.5 792.5V807.9M1171.5 792.1V808.5M1172.5 790.2V807.6M1173.5 794.6V808.5M1174.5 794.2V808.2M1175.5 792.2V806.1M1176.5 792.0V807.0M1177.5 795.1V806.7M1178.5 793.6V808.2M1179.5 792.7V795.9M1180.5 793.2V807.8M1181.5 791.5V809.9M1182.5 794.0V807.3M1183.5 799.1V804.0M1184.5 792.8V805.2M1185.5 792.7V805.7M1186.5 794.8V808.9M1187.5 790.9V810.4M1188.5 794.1V808.8M1189.5 794.1V809.6M1190.5 795.1V807.1M1191.5 794.1V797.5M1193.5 791.1V805.8M1194.5 795.6V805.4M1195.5 795.0V810.0M1196.5 792.1V806.8M1197.5 792.7V809.6M1198.5 796.9V799.9M1199.5 794.9V809.9M1201.5 791.1V805.6M1202.5 790.7V807.2M1203.5 793.0V807.0M1204.5 793.1V806.7M1205.5 794.3V806.8M1206.5 801.1V804.1M1207.5 792.3V808.0M1208.5 795.6V805.6M1209.5 790.1V805.1M1210.5 799.7V803.8M1211.5 792.9V809.5M1212.5 790.9V805.8M1213.5 794.0V806.9M1214.5 793.5V808.4M1215.5 790.1V810.6M1216.5 803.4V804.8M1217.5 794.5V797.7M1218.5 795.1V807.8M1219.5 796.0V798.8M1220.5 793.0V810.7M1222.5 793.5V808.4M1223.5 794.0V805.1M1224.5 792.3V808.7M1225.5 803.9V805.0M1226.5 796.1V800.8M1227.5 790.4V807.1M1228.5 794.1V809.6M1229.5 796.3V797.5M1230.5 793.2V808.8M1231.5 806.2V807.9M1232.5 793.7V810.4M1233.5 791.1V808.1M1234.5 791.0V806.9M1235.5 793.7V806.1M1236.5 794.0V806.7M1237.5 804.7V806.9M1238.5 793.3V795.3M1239.5 795.3V805.7M1240.5 794.7V805.7M1241.5 792.9V807.9M1242.5 790.3V808.4M1244.5 795.8V806.4M1245.5 793.0V806.8M1246.5 790.8V807.7M1247.5 794.4V810.0M1248.5 792.2V806.0M1249.5 792.3V806.4M1250.5 803.3V807.0M1251.5 795.4V805.8M1252.5 796.0V808.1M1253.5 793.1V805.6M1254.5 792.9V807.2M1255.5 792.8V808.4M1256.5 793.9V805.4M1258.5 803.8V807.2M1259.5 793.5V807.8M1260.5 795.6V810.0M1261.5 791.0V806.6M1262.5 795.9V810.8M1263.5 791.0V805.5M1264.5 794.4V806.4M1265.5 794.1V807.2M1266.5 793.2V807.0M1267.5 803.1V807.2M1268.5 795.6V799.6M1269.5 795.0V808.0M1270.5 805.7V807.0M1271.5 790.8V807.1M1272.5 795.3V810.1M1273.5 792.7V805.8M1274.5 795.0V797.9M1275.5 795.3V805.2M1276.5 795.1V809.9M1277.5 790.8V808.0M1278.5 797.2V801.1M1279.5 800.2V804.1M1280.5 790.8V805.4M1281.5 795.6V806.7M1282.5 803.4V804.7M1284.5 793.1V805.7M1285.5 792.0V808.0M1286.5 797.2V801.6M1288.5 793.1V808.4M1289.5 805.6V808.4M1290.5 792.9V808.8M1291.5 790.3V805.2M1292.5 792.2V808.0M1293.5 794.2V797.0M1294.5 794.6V807.3M1295.5 792.9V810.7M1296.5 796.2V799.0M1297.5 791.7V806.9M1298.5 793.6V807.2M1299.5 794.0V806.0M1300.5 794.6V807.8M1301.5 795.0V805.9M1302.5 792.9V808.7M1303.5 803.3V805.4M1304.5 795.4V807.7M1305.5 790.4V806.4M1306.5 795.6V809.7M1307.5 791.3V810.0M1308.5 795.2V798.8M1309.5 791.4V805.4M1310.5 792.9V810.9M1311.5 793.0V808.2M1312.5 795.4V805.4M1313.5 792.2V808.1M1314.5 792.4V807.4M1315.5 794.7V807.8M1316.5 792.8V806.8M1317.5 790.8V806.9M1318.5 795.8V807.1M1319.5 793.7V807.9M1320.5 791.2V806.2M1321.5 792.4V806.7M1322.5 792.2V805.8M1323.5 795.5V807.5M1324.5 793.3V810.7M1325.5 796.0V799.4M1326.5 793.8V806.0M1327.5 793.7V808.6M1328.5 792.7V796.2M1329.5 794.6V805.3M1330.5 794.3V806.0M1332.5 791.4V810.6M1333.5 794.7V806.7M1334.5 795.1V808.3M1335.5 790.6V808.0M1337.5 793.9V808.8M1338.5 794.1V807.9M1339.5 795.2V806.6M1340.5 800.4V804.1M1341.5 794.5V797.9M1342.5 794.0V810.8M1343.5 790.7V811.1M1344.5 795.1V810.9M1345.5 792.5V807.4M1347.5 791.5V808.1M1348.5 792.4V811.0M1349.5 793.1V810.5M1350.5 795.4V807.3M1351.5 795.7V808.3M1352.5 792.1V807.2M1353.5 793.2V797.3M1354.5 795.1V799.9M1355.5 793.5V809.4M1356.5 792.9V807.7M1357.5 793.7V805.4M1358.5 794.4V805.7M1359.5 792.2V808.7M1360.5 794.6V810.3M1361.5 790.1V806.8M1362.5 795.2V806.5M1363.5 791.8V807.1M1364.5 790.6V807.5M1365.5 795.7V806.9M1366.5 792.4V806.5M1367.5 794.6V805.8M1368.5 791.2V810.0M1369.5 794.4V805.4M1370.5 794.9V805.9M1371.5 795.1V805.8M1372.5 806.5V808.0M1373.5 794.0V810.7M1374.5 797.4V799.8M1375.5 794.7V808.6M1376.5 795.4V809.3M1377.5 795.1V810.5M1378.5 792.7V797.5M1379.5 795.9V807.0M1381.5 792.6V796.1M1382.5 792.2V810.5M1383.5 792.9V795.1M1384.5 802.9V806.0M1385.5 791.3V809.4M1386.5 795.9V805.1M1388.5 795.0V809.6M1389.5 793.7V806.6M1390.5 794.4V809.6M1391.5 793.0V796.2M1392.5 790.3V808.6M1393.5 793.6V797.5M1394.5 794.8V810.6M1395.5 794.7V798.5M1396.5 792.5V810.5M1397.5 792.8V808.0M1398.5 804.8V808.3M1399.5 795.5V797.7M1400.5 790.1V810.8M1401.5 805.9V807.2M1402.5 795.6V809.8M1403.5 793.9V808.9M1404.5 795.4V807.8M1405.5 794.0V808.7M1406.5 792.9V806.4M1407.5 793.0V807.3M1408.5 793.9V796.3M1409.5 794.8V807.5M1410.5 793.9V809.6M1411.5 795.1V805.4M1412.5 790.5V808.6M1413.5 795.7V800.6M1414.5 804.3V806.7M1415.5 795.1V807.7M1416.5 792.1V805.5M1417.5 791.1V809.4M1418.5 791.5V807.5M1419.5 794.6V809.8M1420.5 790.9V807.0M1421.5 795.0V806.0M1422.5 797.0V800.0M1423.5 802.9V806.9M1424.5 796.0V805.2M1425.5 794.7V805.9M1426.5 792.3V810.9M1427.5 792.5V805.7M1428.5 790.2V809.7M1431.5 790.7V807.4M1432.5 800.9V803.7M1433.5 801.2V806.0M1434.5 793.3V809.1M1435.5 806.8V807.8M1436.5 795.2V808.2M1437.5 791.8V806.7M1438.5 804.0V808.5M1439.5 792.8V807.8M1441.5 793.2V809.4M1442.5 802.8V804.4M1443.5 795.4V809.5M1445.5 793.9V809.9M1446.5 792.7V808.7M1447.5 792.0V808.9M1448.5 794.4V808.4M1449.5 792.0V806.0M1450.5 797.4V800.0M1451.5 790.3V808.0M1452.5 790.7V806.9M1453.5 793.8V806.7M1454.5 790.7V805.6M1455.5 791.3V811.0M1456.5 793.8V796.8M1457.5 803.0V806.7M1458.5 793.8V807.8M1459.5 795.7V797.7M1460.5 801.0V805.8M1461.5 791.1V806.5M1462.5 794.3V809.0M1463.5 795.3V807.1M1464.5 794.4V807.4M1465.5 795.1V806.9M1467.5 804.6V806.1M1468.5 794.5V806.1M1469.5 807.3V808.4M1470.5 793.8V807.4M1471.5 801.4V805.4M1472.5 792.4V805.4M1473.5 790.4V810.3M1474.5 795.4V808.4M1475.5 790.5V807.4M1476.5 790.4V808.7M1477.5 793.8V796.5M1478.5 802.0V806.7M1479.5 794.5V807.7M1480.5 794.9V805.7M1481.5 794.9V808.5M1482.5 793.0V806.8M1483.5 793.0V810.8M1484.5 791.6V807.5M1485.5 793.6V807.2M1486.5 793.0V807.9M1487.5 805.3V806.8M1488.5 793.3V808.9M1489.5 794.2V809.4M1490.5 794.6V805.6M1491.5 804.5V806.5M1492.5 794.1V795.3M1493.5 792.3V808.4M1494.5 792.1V805.2M1495.5 794.0V806.3M1496.5 795.3V807.4M1497.5 794.2V808.8M1498.5 794.4V805.9M1499.5 794.8V798.3M1500.5 795.5V808.0M1502.5 793.4V808.8M1503.5 791.9V807.8M1504.5 803.8V807.9M1505.5 794.0V808.7M1507.5 792.0V806.3M1508.5 793.9V808.1M1509.5 795.3V806.4M1510.5 793.0V809.6M1511.5 796.0V805.2M1512.5 794.5V809.7M1513.5 795.1V808.0M1514.5 791.7V807.3M1515.5 791.4V810.3M1516.5 801.4V804.6M1517.5 795.9V798.1M1518.5 790.8V807.9M1519.5 797.5V800.9M1520.5 803.5V806.1M1521.5 790.9V806.9M1522.5 803.9V806.1M1523.5 790.8V807.1M1524.5 794.9V810.0M1525.5 793.1V796.3M1526.5 792.3V807.2M1527.5 795.0V806.1M1528.5 796.0V805.4M1529.5 796.2V799.4M1530.5 794.8V809.1M1531.5 790.7V807.6M1532.5 795.0V807.7M1533.5 794.7V798.0M1534.5 803.2V807.9M1535.5 792.2V807.2M1536.5 802.5V806.2M1537.5 796.0V808.4M1539.5 796.0V800.6M1540.5 790.5V805.9M1541.5 800.6V803.7M1542.5 791.0V806.6M1543.5 790.3V805.1M1544.5 794.3V798.4M1545.5 795.1V805.6M1546.5 791.2V807.7M1547.5 791.3V810.7M1548.5 794.3V808.7M1549.5 795.8V811.0M1550.5 794.2V797.1M1551.5 795.5V810.3M1552.5 802.4V805.6M1553.5 794.3V809.6M1554.5 795.9V805.1M1555.5 792.5V809.0M1556.5 791.3V807.5M1557.5 795.5V807.9M1558.5 793.7V796.1M1559.5 794.4V809.6M1560.5 791.2V810.1M1561.5 793.4V809.1M1562.5 790.6V807.0M1563.5 794.2V798.7M1564.5 793.3V808.1M1565.5 794.0V809.4M1566.5 792.0V809.8M1567.5 793.8V805.7M1568.5 790.1V807.8M1570.5 792.7V807.2M1571.5 790.8V805.3M1572.5 794.2V805.3M1573.5 791.5V805.8M1575.5 794.6V810.9M1577.5 792.8V794.5M1578.5 795.9V806.1M1579.5 794.2V797.0M1580.5 794.8V810.6M1581.5 796.5V799.0M1582.5 793.0V807.2M1583.5 794.9V808.8M1584.5 806.5V808.5M1585.5 793.0V807.1M1586.5 792.8V796.8M1587.5 805.3V808.2M1588.5 792.3V807.1M1589.5 792.7V809.4M1590.5 804.1V805.6M1592.5 795.7V806.4M1593.5 794.6V805.3M1594.5 791.0V806.9M1595.5 795.4V808.8M1596.5 790.4V807.1M1597.5 797.2V800.0M1598.5 799.5V803.8M1599.5 795.4V806.0M1600.5 792.5V805.3M1601.5 795.5V806.2M1602.5 791.3V808.2M1603.5 795.9V808.8M1604.5 793.5V807.1M1605.5 792.5V811.0M1606.5 805.8V807.6M1607.5 791.2V808.0M1608.5 792.4V808.4M1609.5 791.3V807.8M1610.5 794.2V795.9M1611.5 791.8V805.5M1612.5 794.6V810.0M1613.5 795.0V807.5M1614.5 795.5V807.7M1615.5 795.0V807.3M1616.5 793.6V807.7M1617.5 795.8V810.1M1618.5 793.5V808.4M1619.5 793.8V809.0M1620.5 793.0V807.8M1621.5 802.4V803.7M1623.5 790.4V808.6M1624.5 795.2V807.1M1625.5 791.6V806.5M1626.5 802.0V806.0M1627.5 795.4V810.3M1628.5 791.1V805.7M1629.5 795.0V811.0M1630.5 795.0V810.8M1631.5 793.4V805.2M1632.5 793.5V809.6M1633.5 795.4V807.0M1634.5 796.7V799.6M1635.5 793.4V808.9M1636.5 800.9V804.0M1637.5 795.8V807.7M1638.5 792.1V807.8M1639.5 790.6V805.5M1640.5 795.2V809.3M1641.5 792.2V806.7M1642.5 793.8V806.3M1643.5 791.2V806.4M1644.5 794.8V806.5M1645.5 792.9V806.1M1647.5 792.7V809.1M1648.5 791.1V809.0M1649.5 793.3V810.5M1650.5 795.2V808.9M1651.5 793.4V808.7M1652.5 792.9V807.6M1653.5 795.5V810.6M1654.5 792.2V810.5M1655.5 792.1V805.2M1656.5 791.2V805.1M1657.5 794.7V808.6M1659.5 795.4V807.1M1660.5 791.6V810.6M1661.5 795.6V811.0M1662.5 793.0V809.3M1663.5 793.3V807.9M1664.5 795.0V807.4M1665.5 793.6V794.8M1666.5 795.7V810.8M1667.5 793.5V810.1M1668.5 791.5V809.8M1669.5 790.5V807.7M1670.5 802.7V806.3M1671.5 795.7V797.4M1672.5 792.9V808.1M1673.5 790.4V805.5M1674.5 792.1V809.1M1675.5 794.2V808.4M1676.5 792.7V795.6M1677.5 795.1V806.2M1678.5 795.0V805.3M1679.5 804.3V805.8M1680.5 793.6V794.8M1681.5 794.2V807.3M1682.5 796.1V798.2M1683.5 795.6V805.3M1684.5 792.2V805.9M1685.5 794.9V809.6M1686.5 795.1V810.0M1687.5 802.5V804.9M1688.5 794.0V806.6M1689.5 793.9V810.8M1690.5 800.6V805.0M1691.5 795.8V810.6M1692.5 793.4V797.2M1693.5 792.8V808.8M1694.5 794.9V797.6M1696.5 794.8V807.7M1697.5 793.4V807.0M1698.5 805.7V807.6" fill="none" stroke="#00ff00" stroke-width="1"/>
</g>
<g shape-rendering="crispEdges" fill="#000">
<rect x="295" y="128" width="1405" height="2"/>
<rect x="295" y="1021" width="1405" height="1"/>
<rect x="1698" y="128" width="2" height="894"/>
</g>
<text class="tk" x="297.5" y="1090.5" text-anchor="middle">0</text>
<text class="tk" x="574.5" y="1090.5" text-anchor="middle">0.2</text>
<text class="tk" x="855.5" y="1090.5" text-anchor="middle">0.4</text>
<text class="tk" x="1136.5" y="1090.5" text-anchor="middle">0.6</text>
<text class="tk" x="1417.5" y="1090.5" text-anchor="middle">0.8</text>
<text class="tk" x="1702.7" y="1090.5" text-anchor="middle">1</text>
<rect x="1684" y="1083" width="17" height="11" fill="#fff"/>
<rect x="1707" y="1083" width="16" height="11" fill="#fff"/>
<text class="tk" x="285" y="213.5" text-anchor="end">600</text>
<text class="tk" x="285" y="340.5" text-anchor="end">400</text>
<text class="tk" x="285" y="467.5" text-anchor="end">200</text>
<text class="tk" x="285" y="594.5" text-anchor="end">0</text>
<text class="tk" x="285" y="721.5" text-anchor="end">-200</text>
<text class="tk" x="285" y="848.5" text-anchor="end">-400</text>
<text class="tk" x="285" y="975.5" text-anchor="end">-600</text>
<text class="lb" x="993" y="1164" text-anchor="middle" textLength="209" lengthAdjust="spacingAndGlyphs">Time[s]</text>
<text class="lb" transform="translate(113.5,575.2) rotate(-90)" text-anchor="middle">Phase current[A]&amp; Stator current[A]</text>
<text class="an" x="1160" y="225.5" font-size="55">i</text>
<text class="an" x="1174" y="241.5" font-size="45">abc</text>
<text class="an" x="339.5" y="386.5" font-size="55">i</text>
<text class="an" x="354" y="402.5" font-size="45">abcj</text>
<text class="an" x="1259" y="936.5" font-size="55">i</text>
<text class="an" x="1273.5" y="952.5" font-size="45">s</text>
<g shape-rendering="crispEdges">
<line x1="1195.0" y1="256.4" x2="1168.4" y2="320.9" stroke="#000" stroke-width="2.7"/><polygon points="1159.0,343.6 1156.4,312.5 1168.4,320.9 1182.8,323.5" fill="#000"/>
<line x1="1195.0" y1="256.4" x2="1195.0" y2="317.3" stroke="#000" stroke-width="2"/><polygon points="1195.0,341.9 1180.7,314.2 1195.0,317.3 1209.3,314.2" fill="#000"/>
<line x1="1195.0" y1="256.4" x2="1222.9" y2="319.4" stroke="#000" stroke-width="2.7"/><polygon points="1232.9,341.9 1208.6,322.4 1222.9,319.4 1234.7,310.8" fill="#000"/>
<line x1="379.8" y1="452.4" x2="352.8" y2="518.0" stroke="#000" stroke-width="2.7"/><polygon points="343.4,540.7 340.7,509.6 352.8,518.0 367.2,520.5" fill="#000"/>
<line x1="379.8" y1="452.4" x2="379.8" y2="514.1" stroke="#000" stroke-width="2"/><polygon points="379.8,538.7 365.5,511.0 379.8,514.1 394.1,511.0" fill="#000"/>
<line x1="379.8" y1="452.4" x2="406.6" y2="516.0" stroke="#000" stroke-width="2.7"/><polygon points="416.2,538.7 392.3,518.7 406.6,516.0 418.6,507.6" fill="#000"/>
<line x1="1245.5" y1="897.1" x2="1162.2" y2="814.3" stroke="#000" stroke-width="2.7"/><polygon points="1144.8,796.9 1174.5,806.3 1162.2,814.3 1154.3,826.6" fill="#000"/>
</g>
</svg></body></html>
